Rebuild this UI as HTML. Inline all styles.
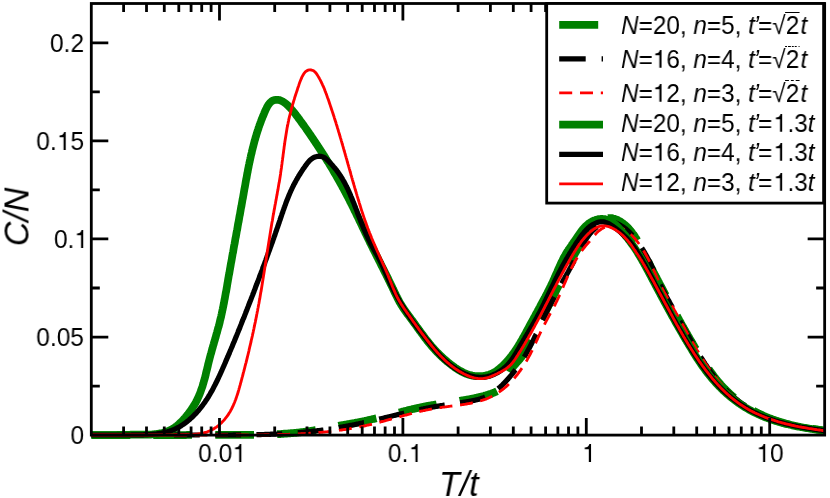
<!DOCTYPE html>
<html><head><meta charset="utf-8"><title>C/N vs T/t</title>
<style>
html,body{margin:0;padding:0;background:#fff;}
body{width:830px;height:498px;position:relative;overflow:hidden;font-family:"Liberation Sans",sans-serif;color:#000;}
.t{position:absolute;white-space:nowrap;line-height:1;will-change:transform;}
.tick{font-size:25.4px;}
.yl{text-align:right;width:80px;left:4.2px;transform:scaleX(0.965);transform-origin:100% 50%;}
.xl{text-align:center;width:100px;transform:scaleX(0.965);transform-origin:50% 50%;}
.ax{font-size:35.5px;font-style:italic;}
.lg{font-size:25.2px;left:621px;transform:scaleX(0.965);transform-origin:0 50%;}
.ap{margin-left:-1.3px;margin-right:-0.9px;}
.o3{margin-left:1.6px;}
.tf{margin-left:1.4px;}
.ov{position:relative;display:inline-block;}
.ov::before{content:"";position:absolute;left:-1px;right:-0.5px;top:-1.2px;border-top:1.6px solid #000;}
.ov.d::before{border-top:none;height:1.6px;background:repeating-linear-gradient(90deg,#000 0 2.2px,transparent 2.2px 3.4px);}
.ov.e::before{border-top:none;height:1.6px;background:repeating-linear-gradient(90deg,#000 0 3.6px,transparent 3.6px 5.6px);}
i{font-style:italic;}
.one{display:inline-block;width:0.556em;height:0.709em;vertical-align:baseline;fill:#000;}
</style></head><body>
<svg width="830" height="498" viewBox="0 0 830 498" style="position:absolute;left:0;top:0">
<defs><clipPath id="cp"><rect x="91.3" y="3.5" width="733.35" height="435.8"/></clipPath></defs>
<g clip-path="url(#cp)" fill="none" stroke-linejoin="round" stroke-linecap="butt">
<path d="M91.3,434.9 L92.1,434.9 L93.0,435.0 L93.9,435.0 L94.7,435.0 L95.6,435.0 L96.4,435.0 L97.3,435.0 L98.1,435.0 L99.0,435.0 L99.9,435.0 L100.7,435.0 L101.6,435.0 L102.4,435.0 L103.3,435.0 L104.2,435.0 L105.0,435.0 L105.9,435.0 L106.7,435.0 L107.6,435.0 L108.5,435.0 L109.3,435.0 L110.2,435.0 L111.0,435.0 L111.9,435.0 L112.7,435.0 L113.6,435.0 L114.5,435.0 L115.3,435.0 L116.2,435.0 L117.0,435.0 L117.9,435.0 L118.7,435.0 L119.6,435.0 L120.5,435.0 L121.3,435.0 L122.2,435.0 L123.0,435.0 L123.9,435.0 L124.7,435.0 L125.6,435.0 L126.5,435.0 L127.3,435.0 L128.2,435.0 L129.0,435.0 L129.9,435.0 L130.7,435.0 L131.6,435.0 L132.5,435.0 L133.3,435.0 L134.2,435.0 L135.0,435.0 L135.9,435.0 L136.7,435.0 L137.6,435.0 L138.5,435.0 L139.3,435.0 L140.2,435.0 L141.0,435.0 L141.9,435.0 L142.7,435.0 L143.6,435.0 L144.5,435.0 L145.3,435.0 L146.2,435.0 L147.0,435.0 L147.9,435.0 L148.7,435.0 L149.6,435.0 L150.5,435.0 L151.3,435.0 L152.2,435.0 L153.0,435.0 L153.9,435.0 L154.7,435.0 L155.6,435.0 L156.5,435.0 L157.3,435.0 L158.2,435.0 L159.0,435.0 L159.9,435.0 L160.7,435.0 L161.6,435.0 L162.4,435.0 L163.3,435.0 L164.2,435.0 L165.0,435.0 L165.9,435.0 L166.7,435.0 L167.6,435.0 L168.4,435.0 L169.3,435.0 L170.2,435.0 L171.0,435.0 L171.9,435.0 L172.7,435.0 L173.6,435.0 L174.4,435.0 L175.3,435.0 L176.2,435.0 L177.0,435.0 L177.9,435.0 L178.7,435.0 L179.6,435.0 L180.4,435.0 L181.3,435.0 L182.1,435.0 L183.0,435.0 L183.9,435.0 L184.7,435.0 L185.6,435.0 L186.4,435.0 L187.3,434.9 L188.1,434.9 L189.0,434.9 L189.9,434.9 L190.7,434.9 L191.6,434.9 L192.4,434.9 L193.3,434.9 L194.1,434.9 L195.0,434.9 L195.9,434.9 L196.7,434.9 L197.6,434.9 L198.4,434.9 L199.3,434.9 L200.1,434.9 L201.0,434.9 L201.9,434.9 L202.7,434.9 L203.6,434.9 L204.4,434.9 L205.3,434.9 L206.1,434.9 L207.0,434.9 L207.9,434.9 L208.7,434.9 L209.6,434.9 L210.4,434.9 L211.3,434.9 L212.1,434.9 L213.0,434.9 L213.9,434.9 L214.7,434.9 L215.6,434.9 L216.4,434.9 L217.3,434.9 L218.1,434.9 L219.0,434.9 L219.9,434.9 L220.7,434.9 L221.6,434.9 L222.4,434.9 L223.3,434.9 L224.1,434.9 L225.0,434.9 L225.9,434.9 L226.7,434.9 L227.6,434.9 L228.4,434.9 L229.3,434.9 L230.2,434.9 L231.0,434.9 L231.9,434.9 L232.7,434.9 L233.6,434.9 L234.4,434.9 L235.3,434.9 L236.2,434.8 L237.0,434.8 L237.9,434.8 L238.7,434.8 L239.6,434.8 L240.5,434.8 L241.3,434.8 L242.2,434.8 L243.0,434.8 L243.9,434.8 L244.8,434.8 L245.6,434.8 L246.5,434.8 L247.3,434.8 L248.2,434.8 L249.0,434.8 L249.9,434.8 L250.8,434.8 L251.6,434.8 L252.5,434.8 L253.3,434.8 L254.2,434.8 L255.1,434.8 L255.9,434.7 L256.8,434.7 L257.6,434.7 L258.5,434.7 L259.3,434.7 L260.2,434.7 L261.1,434.7 L261.9,434.6 L262.8,434.6 L263.6,434.6 L264.5,434.6 L265.4,434.6 L266.2,434.5 L267.1,434.5 L267.9,434.5 L268.8,434.5 L269.6,434.4 L270.5,434.4 L271.4,434.4 L272.2,434.4 L273.1,434.3 L273.9,434.3 L274.8,434.2 L275.6,434.2 L276.5,434.2 L277.3,434.1 L278.2,434.1 L279.1,434.0 L279.9,434.0 L280.8,434.0 L281.6,433.9 L282.5,433.9 L283.3,433.8 L284.2,433.7 L285.0,433.7 L285.9,433.6 L286.7,433.6 L287.6,433.5 L288.5,433.4 L289.3,433.4 L290.2,433.3 L291.0,433.2 L291.9,433.2 L292.7,433.1 L293.6,433.0 L294.4,432.9 L295.3,432.8 L296.1,432.8 L297.0,432.7 L297.8,432.6 L298.7,432.5 L299.5,432.4 L300.4,432.3 L301.2,432.2 L302.1,432.1 L302.9,432.0 L303.8,431.9 L304.6,431.8 L305.5,431.7 L306.3,431.6 L307.2,431.4 L308.0,431.3 L308.8,431.2 L309.7,431.1 L310.5,430.9 L311.4,430.8 L312.2,430.7 L313.1,430.5 L313.9,430.4 L314.8,430.3 L315.6,430.1 L316.5,430.0 L317.3,429.8 L318.1,429.7 L319.0,429.5 L319.8,429.4 L320.7,429.2 L321.5,429.1 L322.4,428.9 L323.2,428.8 L324.0,428.6 L324.9,428.4 L325.7,428.3 L326.6,428.1 L327.4,428.0 L328.3,427.8 L329.1,427.7 L329.9,427.5 L330.8,427.3 L331.6,427.2 L332.5,427.0 L333.3,426.9 L334.2,426.7 L335.0,426.5 L335.8,426.4 L336.7,426.2 L337.5,426.1 L338.4,425.9 L339.2,425.7 L340.0,425.6 L340.9,425.4 L341.7,425.3 L342.6,425.1 L343.4,425.0 L344.3,424.8 L345.1,424.7 L346.0,424.5 L346.8,424.4 L347.6,424.2 L348.5,424.1 L349.3,423.9 L350.2,423.8 L351.0,423.6 L351.9,423.5 L352.7,423.3 L353.5,423.2 L354.4,423.0 L355.2,422.8 L356.1,422.7 L356.9,422.5 L357.7,422.4 L358.6,422.2 L359.4,422.0 L360.3,421.9 L361.1,421.7 L361.9,421.5 L362.8,421.4 L363.6,421.2 L364.5,421.0 L365.3,420.8 L366.1,420.7 L367.0,420.5 L367.8,420.3 L368.6,420.1 L369.5,419.9 L370.3,419.7 L371.1,419.5 L372.0,419.3 L372.8,419.1 L373.6,418.9 L374.5,418.8 L375.3,418.6 L376.1,418.3 L377.0,418.1 L377.8,417.9 L378.6,417.7 L379.5,417.5 L380.3,417.3 L381.1,417.1 L382.0,416.9 L382.8,416.7 L383.6,416.5 L384.5,416.3 L385.3,416.1 L386.1,415.8 L386.9,415.6 L387.8,415.4 L388.6,415.2 L389.4,415.0 L390.3,414.8 L391.1,414.6 L391.9,414.3 L392.8,414.1 L393.6,413.9 L394.4,413.7 L395.2,413.5 L396.1,413.3 L396.9,413.1 L397.7,412.8 L398.6,412.6 L399.4,412.4 L400.2,412.2 L401.1,412.0 L401.9,411.8 L402.7,411.6 L403.5,411.4 L404.4,411.1 L405.2,410.9 L406.0,410.7 L406.9,410.5 L407.7,410.3 L408.5,410.1 L409.4,409.9 L410.2,409.7 L411.0,409.5 L411.9,409.3 L412.7,409.1 L413.5,408.9 L414.4,408.7 L415.2,408.5 L416.0,408.3 L416.9,408.2 L417.7,408.0 L418.5,407.8 L419.4,407.6 L420.2,407.4 L421.1,407.3 L421.9,407.1 L422.7,406.9 L423.6,406.7 L424.4,406.6 L425.2,406.4 L426.1,406.2 L426.9,406.1 L427.8,405.9 L428.6,405.8 L429.5,405.6 L430.3,405.5 L431.1,405.3 L432.0,405.2 L432.8,405.0 L433.7,404.9 L434.5,404.8 L435.4,404.6 L436.2,404.5 L437.1,404.3 L437.9,404.2 L438.7,404.1 L439.6,403.9 L440.4,403.8 L441.3,403.7 L442.1,403.6 L443.0,403.4 L443.8,403.3 L444.7,403.2 L445.5,403.0 L446.4,402.9 L447.2,402.8 L448.1,402.7 L448.9,402.5 L449.8,402.4 L450.6,402.3 L451.5,402.2 L452.3,402.0 L453.2,401.9 L454.0,401.8 L454.8,401.6 L455.7,401.5 L456.5,401.4 L457.4,401.2 L458.2,401.1 L459.1,401.0 L459.9,400.8 L460.8,400.7 L461.6,400.6 L462.5,400.4 L463.3,400.3 L464.2,400.1 L465.0,400.0 L465.8,399.8 L466.7,399.7 L467.5,399.5 L468.4,399.4 L469.2,399.2 L470.1,399.0 L470.9,398.9 L471.7,398.7 L472.6,398.5 L473.4,398.4 L474.3,398.2 L475.1,398.0 L475.9,397.8 L476.8,397.6 L477.6,397.4 L478.5,397.2 L479.3,397.0 L480.1,396.8 L481.0,396.6 L481.8,396.4 L482.6,396.2 L483.5,396.0 L484.3,395.8 L485.1,395.5 L486.0,395.3 L486.8,395.1 L487.6,394.8 L488.4,394.6 L489.3,394.3 L490.1,394.0 L490.9,393.8 L491.7,393.5 L492.5,393.2 L493.3,392.9 L494.1,392.6 L494.9,392.2 L495.7,391.9 L496.4,391.5 L497.2,391.1 L497.9,390.6 L498.6,390.2 L499.3,389.7 L499.9,389.1 L500.6,388.6 L501.2,388.0 L501.7,387.4 L502.3,386.8 L502.8,386.1 L503.4,385.4 L503.9,384.7 L504.3,384.0 L504.8,383.3 L505.2,382.5 L505.6,381.8 L506.0,381.0 L506.3,380.2 L506.7,379.4 L507.0,378.6 L507.4,377.8 L507.7,377.0 L508.0,376.2 L508.4,375.4 L508.7,374.6 L509.0,373.8 L509.4,373.0 L509.7,372.3 L510.1,371.5 L510.5,370.7 L510.9,370.0 L511.4,369.3 L511.8,368.5 L512.3,367.9 L512.8,367.2 L513.4,366.5 L513.9,365.8 L514.5,365.2 L515.0,364.5 L515.6,363.9 L516.2,363.3 L516.7,362.6 L517.3,362.0 L517.9,361.3 L518.5,360.7 L519.0,360.1 L519.6,359.4 L520.1,358.7 L520.7,358.1 L521.2,357.4 L521.7,356.7 L522.2,356.0 L522.6,355.3 L523.1,354.6 L523.5,353.8 L523.9,353.1 L524.3,352.3 L524.7,351.6 L525.1,350.8 L525.5,350.1 L525.9,349.3 L526.3,348.5 L526.7,347.8 L527.1,347.0 L527.5,346.3 L527.9,345.5 L528.3,344.7 L528.7,344.0 L529.1,343.2 L529.5,342.5 L529.9,341.7 L530.3,340.9 L530.7,340.2 L531.1,339.4 L531.5,338.7 L531.9,337.9 L532.2,337.1 L532.6,336.4 L533.0,335.6 L533.4,334.9 L533.8,334.1 L534.2,333.3 L534.6,332.6 L535.0,331.8 L535.4,331.1 L535.8,330.3 L536.2,329.5 L536.6,328.8 L537.0,328.0 L537.4,327.3 L537.8,326.5 L538.2,325.7 L538.6,325.0 L539.0,324.2 L539.4,323.5 L539.8,322.7 L540.2,321.9 L540.6,321.2 L541.0,320.4 L541.4,319.6 L541.8,318.9 L542.2,318.1 L542.6,317.4 L543.0,316.6 L543.4,315.8 L543.8,315.1 L544.2,314.3 L544.6,313.6 L545.0,312.8 L545.4,312.0 L545.8,311.3 L546.1,310.5 L546.5,309.7 L546.9,309.0 L547.3,308.2 L547.7,307.5 L548.1,306.7 L548.5,305.9 L548.9,305.2 L549.3,304.4 L549.7,303.6 L550.1,302.9 L550.4,302.1 L550.8,301.3 L551.2,300.6 L551.6,299.8 L552.0,299.0 L552.4,298.3 L552.8,297.5 L553.1,296.8 L553.5,296.0 L553.9,295.2 L554.3,294.4 L554.7,293.7 L555.1,292.9 L555.4,292.1 L555.8,291.4 L556.2,290.6 L556.6,289.8 L556.9,289.1 L557.3,288.3 L557.7,287.5 L558.1,286.8 L558.5,286.0 L558.8,285.2 L559.2,284.5 L559.6,283.7 L560.0,282.9 L560.3,282.1 L560.7,281.4 L561.1,280.6 L561.5,279.8 L561.8,279.1 L562.2,278.3 L562.6,277.5 L563.0,276.8 L563.4,276.0 L563.7,275.2 L564.1,274.5 L564.5,273.7 L564.9,272.9 L565.3,272.2 L565.6,271.4 L566.0,270.6 L566.4,269.9 L566.8,269.1 L567.2,268.3 L567.6,267.6 L568.0,266.8 L568.3,266.1 L568.7,265.3 L569.1,264.5 L569.5,263.8 L569.9,263.0 L570.3,262.3 L570.7,261.5 L571.1,260.8 L571.5,260.0 L571.9,259.2 L572.3,258.5 L572.7,257.7 L573.2,257.0 L573.6,256.2 L574.0,255.5 L574.4,254.7 L574.8,254.0 L575.2,253.3 L575.7,252.5 L576.1,251.8 L576.5,251.0 L576.9,250.3 L577.4,249.5 L577.8,248.8 L578.3,248.1 L578.7,247.3 L579.1,246.6 L579.6,245.9 L580.0,245.1 L580.5,244.4 L580.9,243.7 L581.4,243.0 L581.9,242.2 L582.3,241.5 L582.8,240.8 L583.3,240.1 L583.8,239.4 L584.2,238.6 L584.7,237.9 L585.2,237.2 L585.7,236.5 L586.2,235.8 L586.7,235.1 L587.2,234.4 L587.7,233.7 L588.2,233.0 L588.7,232.3 L589.2,231.6 L589.8,230.9 L590.3,230.2 L590.8,229.5 L591.4,228.8 L591.9,228.2 L592.5,227.5 L593.0,226.9 L593.6,226.2 L594.2,225.6 L594.8,225.0 L595.4,224.4 L596.0,223.8 L596.6,223.3 L597.3,222.7 L598.0,222.2 L598.7,221.7 L599.3,221.2 L600.1,220.8 L600.8,220.4 L601.6,220.0 L602.3,219.6 L603.1,219.3 L603.9,219.0 L604.8,218.7 L605.6,218.5 L606.4,218.3 L607.3,218.2 L608.2,218.1 L609.0,218.0 L609.9,218.0 L610.7,218.1 L611.6,218.1 L612.4,218.3 L613.2,218.5 L614.1,218.7 L614.9,219.0 L615.7,219.2 L616.4,219.5 L617.2,219.9 L618.0,220.2 L618.7,220.6 L619.5,221.0 L620.2,221.4 L620.9,221.9 L621.6,222.3 L622.3,222.8 L623.0,223.3 L623.6,223.8 L624.3,224.3 L624.9,224.9 L625.6,225.4 L626.2,226.0 L626.8,226.6 L627.4,227.2 L628.1,227.8 L628.6,228.4 L629.2,229.1 L629.8,229.7 L630.4,230.4 L630.9,231.1 L631.5,231.8 L632.0,232.5 L632.5,233.2 L633.1,233.9 L633.6,234.6 L634.1,235.3 L634.6,236.0 L635.1,236.8 L635.5,237.5 L636.0,238.3 L636.5,239.0 L637.0,239.8 L637.4,240.5 L637.9,241.3 L638.3,242.0 L638.7,242.8 L639.2,243.5 L639.6,244.3 L640.0,245.0 L640.4,245.8 L640.8,246.5 L641.2,247.3 L641.6,248.1 L642.0,248.8 L642.4,249.6 L642.8,250.3 L643.2,251.1 L643.5,251.9 L643.9,252.6 L644.3,253.4 L644.7,254.1 L645.1,254.9 L645.4,255.7 L645.8,256.4 L646.2,257.2 L646.5,257.9 L646.9,258.7 L647.3,259.5 L647.6,260.2 L648.0,261.0 L648.4,261.8 L648.8,262.5 L649.1,263.3 L649.5,264.0 L649.9,264.8 L650.3,265.6 L650.7,266.3 L651.0,267.1 L651.4,267.8 L651.8,268.6 L652.2,269.4 L652.6,270.1 L653.0,270.9 L653.4,271.7 L653.7,272.4 L654.1,273.2 L654.5,273.9 L654.9,274.7 L655.3,275.5 L655.7,276.2 L656.1,277.0 L656.5,277.7 L656.9,278.5 L657.3,279.3 L657.7,280.0 L658.1,280.8 L658.5,281.5 L658.9,282.3 L659.3,283.1 L659.7,283.8 L660.1,284.6 L660.5,285.3 L660.9,286.1 L661.3,286.9 L661.7,287.6 L662.1,288.4 L662.5,289.1 L662.9,289.9 L663.3,290.7 L663.7,291.4 L664.1,292.2 L664.5,292.9 L664.9,293.7 L665.3,294.5 L665.7,295.2 L666.1,296.0 L666.5,296.7 L667.0,297.5 L667.4,298.2 L667.8,299.0 L668.2,299.7 L668.6,300.5 L669.0,301.3 L669.4,302.0 L669.8,302.8 L670.2,303.5 L670.6,304.3 L671.1,305.0 L671.5,305.8 L671.9,306.5 L672.3,307.3 L672.7,308.1 L673.1,308.8 L673.5,309.6 L673.9,310.3 L674.4,311.1 L674.8,311.8 L675.2,312.6 L675.6,313.3 L676.0,314.1 L676.4,314.8 L676.8,315.6 L677.2,316.3 L677.7,317.1 L678.1,317.8 L678.5,318.6 L678.9,319.3 L679.3,320.1 L679.7,320.8 L680.1,321.6 L680.6,322.3 L681.0,323.1 L681.4,323.8 L681.8,324.6 L682.2,325.3 L682.6,326.0 L683.1,326.8 L683.5,327.5 L683.9,328.3 L684.3,329.0 L684.7,329.8 L685.2,330.5 L685.6,331.3 L686.0,332.0 L686.4,332.7 L686.9,333.5 L687.3,334.2 L687.7,335.0 L688.1,335.7 L688.6,336.5 L689.0,337.2 L689.4,337.9 L689.8,338.7 L690.3,339.4 L690.7,340.2 L691.1,340.9 L691.6,341.6 L692.0,342.4 L692.4,343.1 L692.9,343.9 L693.3,344.6 L693.7,345.3 L694.2,346.1 L694.6,346.8 L695.0,347.5 L695.5,348.3 L695.9,349.0 L696.4,349.7 L696.8,350.5 L697.3,351.2 L697.7,351.9 L698.1,352.7 L698.6,353.4 L699.0,354.1 L699.5,354.9 L699.9,355.6 L700.4,356.3 L700.9,357.1 L701.3,357.8 L701.8,358.5 L702.2,359.2 L702.7,360.0 L703.2,360.7 L703.6,361.4 L704.1,362.1 L704.6,362.9 L705.0,363.6 L705.5,364.3 L706.0,365.0 L706.5,365.7 L706.9,366.4 L707.4,367.1 L707.9,367.9 L708.4,368.6 L708.9,369.3 L709.4,370.0 L709.9,370.7 L710.4,371.4 L710.9,372.1 L711.4,372.8 L711.9,373.5 L712.4,374.1 L712.9,374.8 L713.4,375.5 L713.9,376.2 L714.5,376.9 L715.0,377.5 L715.5,378.2 L716.0,378.9 L716.6,379.6 L717.1,380.2 L717.7,380.9 L718.2,381.5 L718.8,382.2 L719.3,382.8 L719.9,383.5 L720.4,384.1 L721.0,384.8 L721.6,385.4 L722.1,386.0 L722.7,386.7 L723.3,387.3 L723.9,387.9 L724.5,388.5 L725.1,389.1 L725.7,389.7 L726.3,390.3 L726.9,390.9 L727.5,391.5 L728.1,392.1 L728.7,392.7 L729.3,393.3 L730.0,393.9 L730.6,394.4 L731.2,395.0 L731.9,395.6 L732.5,396.1 L733.2,396.7 L733.8,397.2 L734.5,397.8 L735.2,398.3 L735.8,398.9 L736.5,399.4 L737.2,399.9 L737.9,400.4 L738.5,401.0 L739.2,401.5 L739.9,402.0 L740.6,402.5 L741.3,403.0 L742.0,403.5 L742.7,404.0 L743.4,404.5 L744.1,404.9 L744.8,405.4 L745.6,405.9 L746.3,406.3 L747.0,406.8 L747.7,407.3 L748.5,407.7 L749.2,408.2 L749.9,408.6 L750.7,409.1 L751.4,409.5 L752.2,409.9 L752.9,410.3 L753.6,410.8 L754.4,411.2 L755.2,411.6 L755.9,412.0 L756.7,412.4 L757.4,412.8 L758.2,413.2 L759.0,413.6 L759.7,413.9 L760.5,414.3 L761.3,414.7 L762.1,415.0 L762.9,415.4 L763.6,415.8 L764.4,416.1 L765.2,416.5 L766.0,416.8 L766.8,417.1 L767.6,417.5 L768.4,417.8 L769.2,418.1 L770.0,418.4 L770.8,418.7 L771.6,419.0 L772.4,419.3 L773.2,419.6 L774.0,419.9 L774.8,420.2 L775.6,420.5 L776.4,420.8 L777.2,421.0 L778.1,421.3 L778.9,421.6 L779.7,421.8 L780.5,422.1 L781.3,422.3 L782.1,422.5 L783.0,422.8 L783.8,423.0 L784.6,423.2 L785.4,423.5 L786.3,423.7 L787.1,423.9 L787.9,424.1 L788.8,424.3 L789.6,424.5 L790.4,424.7 L791.2,424.9 L792.1,425.1 L792.9,425.2 L793.7,425.4 L794.6,425.6 L795.4,425.8 L796.3,425.9 L797.1,426.1 L797.9,426.3 L798.8,426.4 L799.6,426.6 L800.5,426.7 L801.3,426.9 L802.1,427.1 L803.0,427.2 L803.8,427.4 L804.7,427.5 L805.5,427.6 L806.4,427.8 L807.2,427.9 L808.0,428.1 L808.9,428.2 L809.7,428.4 L810.6,428.5 L811.4,428.6 L812.3,428.8 L813.1,428.9 L814.0,429.0 L814.8,429.2 L815.7,429.3 L816.5,429.4 L817.4,429.6 L818.2,429.7 L819.1,429.8 L819.9,430.0 L820.8,430.1 L821.6,430.2 L822.5,430.4 L823.3,430.5 L824.2,430.7 L825.0,430.8" stroke="#008000" stroke-width="7.75" stroke-dasharray="38.7 23.3" stroke-dashoffset="0"/>
<path d="M91.3,435.0 L92.2,435.0 L93.0,435.0 L93.9,435.0 L94.7,435.0 L95.6,435.0 L96.4,435.0 L97.3,435.0 L98.1,435.0 L99.0,435.0 L99.8,435.0 L100.7,435.0 L101.5,435.0 L102.4,435.0 L103.2,435.0 L104.1,435.0 L104.9,435.0 L105.8,435.0 L106.6,435.0 L107.5,435.0 L108.3,435.0 L109.2,435.0 L110.0,435.0 L110.9,435.0 L111.7,435.0 L112.6,435.0 L113.4,435.0 L114.3,435.0 L115.1,435.0 L116.0,435.0 L116.8,435.0 L117.7,435.0 L118.6,435.0 L119.4,435.0 L120.3,435.0 L121.1,435.0 L122.0,435.0 L122.8,435.0 L123.7,435.0 L124.5,435.0 L125.4,435.0 L126.2,435.0 L127.1,435.0 L127.9,435.0 L128.8,435.0 L129.6,435.0 L130.5,435.0 L131.3,435.0 L132.2,435.0 L133.0,435.0 L133.9,435.0 L134.7,435.0 L135.6,435.0 L136.4,435.0 L137.3,435.0 L138.2,435.0 L139.0,435.0 L139.9,435.0 L140.7,435.0 L141.6,435.0 L142.4,435.0 L143.3,435.0 L144.1,435.0 L145.0,435.0 L145.8,435.0 L146.7,435.0 L147.5,435.0 L148.4,435.0 L149.2,435.0 L150.1,435.0 L150.9,435.0 L151.8,435.0 L152.6,435.0 L153.5,435.0 L154.3,435.0 L155.2,435.0 L156.0,435.0 L156.9,435.0 L157.7,435.0 L158.6,435.0 L159.5,435.0 L160.3,435.0 L161.2,435.0 L162.0,435.0 L162.9,435.0 L163.7,435.0 L164.6,435.0 L165.4,435.0 L166.3,435.0 L167.1,435.0 L168.0,435.0 L168.8,435.0 L169.7,435.0 L170.5,435.0 L171.4,435.0 L172.2,435.0 L173.1,435.0 L173.9,435.0 L174.8,435.0 L175.6,435.0 L176.5,435.0 L177.3,435.0 L178.2,435.0 L179.0,435.0 L179.9,435.0 L180.7,435.0 L181.6,435.0 L182.4,435.0 L183.3,435.0 L184.2,435.0 L185.0,435.0 L185.9,435.0 L186.7,435.0 L187.6,435.0 L188.4,435.0 L189.3,435.0 L190.1,435.0 L191.0,435.0 L191.8,435.0 L192.7,435.0 L193.5,435.0 L194.4,435.0 L195.2,435.0 L196.1,435.0 L196.9,435.0 L197.8,435.0 L198.6,435.0 L199.5,435.0 L200.3,435.0 L201.2,435.0 L202.0,435.0 L202.9,435.0 L203.7,435.0 L204.6,435.0 L205.4,435.0 L206.3,435.0 L207.1,435.0 L208.0,435.0 L208.8,435.0 L209.7,435.0 L210.5,435.0 L211.4,435.0 L212.3,435.0 L213.1,435.0 L214.0,435.0 L214.8,435.0 L215.7,435.0 L216.5,435.0 L217.4,435.0 L218.2,435.0 L219.1,435.0 L219.9,435.0 L220.8,435.0 L221.6,435.0 L222.5,435.0 L223.3,435.0 L224.2,435.0 L225.0,435.0 L225.9,435.0 L226.7,435.0 L227.6,435.0 L228.4,435.0 L229.3,435.0 L230.1,435.0 L231.0,435.0 L231.8,435.0 L232.7,435.0 L233.5,434.9 L234.4,434.9 L235.2,434.9 L236.1,434.9 L237.0,434.9 L237.8,434.9 L238.7,434.9 L239.5,434.9 L240.4,434.9 L241.2,434.9 L242.1,434.9 L242.9,434.9 L243.8,434.9 L244.6,434.8 L245.5,434.8 L246.3,434.8 L247.2,434.8 L248.0,434.8 L248.9,434.8 L249.7,434.8 L250.6,434.8 L251.4,434.7 L252.3,434.7 L253.1,434.7 L254.0,434.7 L254.8,434.7 L255.7,434.7 L256.6,434.6 L257.4,434.6 L258.3,434.6 L259.1,434.6 L260.0,434.6 L260.8,434.6 L261.7,434.5 L262.5,434.5 L263.4,434.5 L264.2,434.5 L265.1,434.4 L265.9,434.4 L266.8,434.4 L267.6,434.4 L268.5,434.3 L269.3,434.3 L270.2,434.3 L271.0,434.2 L271.9,434.2 L272.7,434.2 L273.6,434.2 L274.4,434.1 L275.3,434.1 L276.1,434.0 L277.0,434.0 L277.9,434.0 L278.7,433.9 L279.6,433.9 L280.4,433.9 L281.3,433.8 L282.1,433.8 L283.0,433.7 L283.8,433.7 L284.7,433.6 L285.5,433.6 L286.4,433.5 L287.2,433.5 L288.1,433.4 L288.9,433.4 L289.8,433.3 L290.6,433.3 L291.5,433.2 L292.3,433.2 L293.2,433.1 L294.0,433.0 L294.9,433.0 L295.7,432.9 L296.6,432.9 L297.4,432.8 L298.3,432.7 L299.1,432.7 L299.9,432.6 L300.8,432.5 L301.6,432.4 L302.5,432.4 L303.3,432.3 L304.2,432.2 L305.0,432.1 L305.9,432.0 L306.7,432.0 L307.6,431.9 L308.4,431.8 L309.3,431.7 L310.1,431.6 L311.0,431.5 L311.8,431.4 L312.6,431.3 L313.5,431.2 L314.3,431.1 L315.2,431.1 L316.0,430.9 L316.9,430.8 L317.7,430.7 L318.6,430.6 L319.4,430.5 L320.3,430.4 L321.1,430.3 L321.9,430.2 L322.8,430.1 L323.6,430.0 L324.5,429.8 L325.3,429.7 L326.2,429.6 L327.0,429.5 L327.8,429.4 L328.7,429.2 L329.5,429.1 L330.4,429.0 L331.2,428.8 L332.0,428.7 L332.9,428.6 L333.7,428.4 L334.6,428.3 L335.4,428.2 L336.2,428.0 L337.1,427.9 L337.9,427.7 L338.8,427.6 L339.6,427.4 L340.4,427.3 L341.3,427.1 L342.1,427.0 L343.0,426.8 L343.8,426.7 L344.6,426.5 L345.5,426.4 L346.3,426.2 L347.1,426.1 L348.0,425.9 L348.8,425.7 L349.6,425.6 L350.5,425.4 L351.3,425.3 L352.2,425.1 L353.0,424.9 L353.8,424.8 L354.7,424.6 L355.5,424.4 L356.3,424.2 L357.2,424.1 L358.0,423.9 L358.8,423.7 L359.7,423.5 L360.5,423.4 L361.3,423.2 L362.2,423.0 L363.0,422.8 L363.8,422.6 L364.7,422.5 L365.5,422.3 L366.3,422.1 L367.2,421.9 L368.0,421.7 L368.8,421.5 L369.7,421.3 L370.5,421.2 L371.3,421.0 L372.2,420.8 L373.0,420.6 L373.8,420.4 L374.6,420.2 L375.5,420.0 L376.3,419.8 L377.1,419.6 L378.0,419.4 L378.8,419.2 L379.6,419.0 L380.4,418.8 L381.3,418.6 L382.1,418.4 L382.9,418.2 L383.8,418.0 L384.6,417.8 L385.4,417.6 L386.2,417.4 L387.1,417.2 L387.9,417.0 L388.7,416.8 L389.6,416.6 L390.4,416.4 L391.2,416.2 L392.0,416.0 L392.9,415.8 L393.7,415.6 L394.5,415.4 L395.4,415.2 L396.2,415.0 L397.0,414.8 L397.8,414.6 L398.7,414.4 L399.5,414.2 L400.3,414.0 L401.1,413.8 L402.0,413.6 L402.8,413.4 L403.6,413.2 L404.5,413.0 L405.3,412.8 L406.1,412.7 L406.9,412.5 L407.8,412.3 L408.6,412.1 L409.4,411.9 L410.3,411.7 L411.1,411.5 L411.9,411.3 L412.8,411.1 L413.6,410.9 L414.4,410.8 L415.2,410.6 L416.1,410.4 L416.9,410.2 L417.7,410.0 L418.6,409.8 L419.4,409.7 L420.2,409.5 L421.1,409.3 L421.9,409.1 L422.7,409.0 L423.6,408.8 L424.4,408.6 L425.2,408.5 L426.1,408.3 L426.9,408.1 L427.7,408.0 L428.6,407.8 L429.4,407.7 L430.2,407.5 L431.1,407.3 L431.9,407.2 L432.7,407.0 L433.6,406.9 L434.4,406.7 L435.3,406.6 L436.1,406.4 L436.9,406.3 L437.8,406.2 L438.6,406.0 L439.4,405.9 L440.3,405.8 L441.1,405.6 L442.0,405.5 L442.8,405.4 L443.6,405.2 L444.5,405.1 L445.3,405.0 L446.2,404.9 L447.0,404.7 L447.9,404.6 L448.7,404.5 L449.5,404.4 L450.4,404.3 L451.2,404.1 L452.1,404.0 L452.9,403.9 L453.8,403.8 L454.6,403.7 L455.5,403.5 L456.3,403.4 L457.1,403.3 L458.0,403.2 L458.8,403.0 L459.7,402.9 L460.5,402.8 L461.4,402.6 L462.2,402.5 L463.1,402.4 L463.9,402.2 L464.8,402.1 L465.6,402.0 L466.4,401.8 L467.3,401.7 L468.1,401.5 L469.0,401.4 L469.8,401.2 L470.7,401.1 L471.5,400.9 L472.4,400.8 L473.2,400.6 L474.0,400.4 L474.9,400.2 L475.7,400.0 L476.5,399.8 L477.4,399.6 L478.2,399.4 L479.0,399.2 L479.8,398.9 L480.6,398.7 L481.4,398.4 L482.2,398.1 L483.0,397.9 L483.8,397.6 L484.6,397.2 L485.3,396.9 L486.1,396.6 L486.9,396.2 L487.6,395.9 L488.3,395.5 L489.1,395.1 L489.8,394.7 L490.5,394.2 L491.3,393.8 L492.0,393.3 L492.7,392.9 L493.4,392.4 L494.0,391.9 L494.7,391.4 L495.4,390.9 L496.1,390.4 L496.7,389.9 L497.4,389.4 L498.1,388.8 L498.7,388.3 L499.3,387.7 L500.0,387.1 L500.6,386.5 L501.2,386.0 L501.9,385.4 L502.5,384.8 L503.1,384.2 L503.7,383.6 L504.3,382.9 L504.9,382.3 L505.5,381.7 L506.1,381.1 L506.6,380.4 L507.2,379.8 L507.8,379.2 L508.4,378.5 L508.9,377.9 L509.5,377.2 L510.0,376.6 L510.6,375.9 L511.1,375.3 L511.7,374.6 L512.2,373.9 L512.8,373.3 L513.3,372.6 L513.8,371.9 L514.4,371.3 L514.9,370.6 L515.4,369.9 L515.9,369.3 L516.4,368.6 L516.9,367.9 L517.4,367.2 L517.9,366.5 L518.4,365.8 L518.9,365.1 L519.4,364.5 L519.8,363.8 L520.3,363.1 L520.8,362.4 L521.3,361.7 L521.7,360.9 L522.2,360.2 L522.6,359.5 L523.1,358.8 L523.5,358.1 L524.0,357.4 L524.4,356.7 L524.8,355.9 L525.3,355.2 L525.7,354.5 L526.1,353.7 L526.5,353.0 L527.0,352.3 L527.4,351.5 L527.8,350.8 L528.2,350.0 L528.6,349.3 L529.0,348.6 L529.4,347.8 L529.8,347.1 L530.2,346.3 L530.6,345.5 L531.0,344.8 L531.4,344.0 L531.7,343.3 L532.1,342.5 L532.5,341.7 L532.9,341.0 L533.3,340.2 L533.6,339.5 L534.0,338.7 L534.4,337.9 L534.7,337.1 L535.1,336.4 L535.5,335.6 L535.8,334.8 L536.2,334.1 L536.6,333.3 L536.9,332.5 L537.3,331.7 L537.7,331.0 L538.0,330.2 L538.4,329.4 L538.7,328.6 L539.1,327.9 L539.5,327.1 L539.8,326.3 L540.2,325.5 L540.5,324.8 L540.9,324.0 L541.3,323.2 L541.6,322.4 L542.0,321.7 L542.3,320.9 L542.7,320.1 L543.1,319.3 L543.4,318.6 L543.8,317.8 L544.2,317.0 L544.5,316.2 L544.9,315.5 L545.3,314.7 L545.6,313.9 L546.0,313.2 L546.4,312.4 L546.7,311.6 L547.1,310.9 L547.5,310.1 L547.9,309.3 L548.3,308.6 L548.6,307.8 L549.0,307.0 L549.4,306.3 L549.8,305.5 L550.2,304.8 L550.6,304.0 L551.0,303.3 L551.4,302.5 L551.7,301.8 L552.1,301.0 L552.5,300.2 L552.9,299.5 L553.3,298.7 L553.7,298.0 L554.1,297.2 L554.5,296.5 L554.9,295.7 L555.3,295.0 L555.7,294.3 L556.1,293.5 L556.6,292.8 L557.0,292.0 L557.4,291.3 L557.8,290.5 L558.2,289.8 L558.6,289.0 L559.0,288.3 L559.4,287.5 L559.8,286.8 L560.2,286.1 L560.6,285.3 L561.1,284.6 L561.5,283.8 L561.9,283.1 L562.3,282.3 L562.7,281.6 L563.1,280.9 L563.5,280.1 L563.9,279.4 L564.4,278.6 L564.8,277.9 L565.2,277.1 L565.6,276.4 L566.0,275.7 L566.4,274.9 L566.8,274.2 L567.2,273.4 L567.7,272.7 L568.1,271.9 L568.5,271.2 L568.9,270.4 L569.3,269.7 L569.7,268.9 L570.1,268.2 L570.5,267.5 L570.9,266.7 L571.4,266.0 L571.8,265.2 L572.2,264.5 L572.6,263.7 L573.0,263.0 L573.4,262.2 L573.8,261.5 L574.2,260.7 L574.6,259.9 L575.0,259.2 L575.4,258.4 L575.8,257.7 L576.2,256.9 L576.6,256.2 L577.0,255.4 L577.4,254.6 L577.8,253.9 L578.2,253.1 L578.6,252.4 L579.0,251.6 L579.4,250.8 L579.8,250.1 L580.2,249.3 L580.6,248.6 L581.0,247.8 L581.4,247.1 L581.8,246.3 L582.2,245.5 L582.6,244.8 L583.0,244.1 L583.5,243.3 L583.9,242.6 L584.3,241.9 L584.8,241.1 L585.2,240.4 L585.7,239.7 L586.1,239.0 L586.6,238.3 L587.1,237.6 L587.6,236.9 L588.1,236.2 L588.6,235.5 L589.1,234.8 L589.6,234.2 L590.1,233.5 L590.7,232.9 L591.2,232.2 L591.8,231.6 L592.4,231.0 L593.0,230.4 L593.6,229.8 L594.2,229.2 L594.8,228.6 L595.5,228.1 L596.2,227.5 L596.8,227.0 L597.5,226.4 L598.2,225.9 L599.0,225.4 L599.7,225.0 L600.4,224.5 L601.2,224.1 L601.9,223.7 L602.7,223.4 L603.5,223.0 L604.3,222.7 L605.0,222.5 L605.8,222.3 L606.6,222.1 L607.4,221.9 L608.3,221.8 L609.1,221.8 L609.9,221.8 L610.7,221.8 L611.5,221.9 L612.4,222.1 L613.2,222.2 L614.0,222.4 L614.8,222.7 L615.6,223.0 L616.4,223.3 L617.2,223.6 L618.0,224.0 L618.8,224.4 L619.6,224.8 L620.3,225.2 L621.1,225.7 L621.8,226.1 L622.6,226.6 L623.3,227.1 L624.0,227.6 L624.7,228.1 L625.4,228.7 L626.1,229.2 L626.7,229.8 L627.4,230.3 L628.0,230.9 L628.7,231.5 L629.3,232.1 L629.9,232.7 L630.5,233.3 L631.1,233.9 L631.7,234.5 L632.2,235.2 L632.8,235.8 L633.4,236.4 L633.9,237.1 L634.4,237.7 L635.0,238.4 L635.5,239.1 L636.0,239.7 L636.5,240.4 L637.0,241.1 L637.5,241.7 L638.0,242.4 L638.5,243.1 L639.0,243.8 L639.5,244.5 L640.0,245.2 L640.4,245.9 L640.9,246.6 L641.4,247.3 L641.8,248.0 L642.3,248.7 L642.7,249.4 L643.2,250.2 L643.6,250.9 L644.0,251.6 L644.5,252.3 L644.9,253.1 L645.3,253.8 L645.7,254.5 L646.2,255.3 L646.6,256.0 L647.0,256.7 L647.4,257.5 L647.8,258.2 L648.2,259.0 L648.6,259.7 L649.0,260.5 L649.4,261.2 L649.8,262.0 L650.2,262.8 L650.5,263.5 L650.9,264.3 L651.3,265.1 L651.6,265.8 L652.0,266.6 L652.3,267.4 L652.7,268.1 L653.0,268.9 L653.4,269.7 L653.7,270.5 L654.1,271.2 L654.4,272.0 L654.8,272.8 L655.1,273.6 L655.5,274.3 L655.8,275.1 L656.1,275.9 L656.5,276.7 L656.8,277.4 L657.2,278.2 L657.6,279.0 L657.9,279.8 L658.3,280.5 L658.6,281.3 L659.0,282.1 L659.4,282.8 L659.7,283.6 L660.1,284.4 L660.5,285.1 L660.9,285.9 L661.3,286.6 L661.7,287.4 L662.0,288.2 L662.4,288.9 L662.8,289.7 L663.2,290.4 L663.6,291.2 L664.0,291.9 L664.4,292.7 L664.8,293.5 L665.2,294.2 L665.6,295.0 L666.0,295.7 L666.4,296.5 L666.8,297.2 L667.2,298.0 L667.6,298.7 L668.0,299.5 L668.4,300.2 L668.9,301.0 L669.3,301.7 L669.7,302.5 L670.1,303.2 L670.5,304.0 L670.9,304.7 L671.3,305.4 L671.7,306.2 L672.1,306.9 L672.5,307.7 L672.9,308.4 L673.3,309.2 L673.8,309.9 L674.2,310.7 L674.6,311.4 L675.0,312.2 L675.4,312.9 L675.8,313.6 L676.2,314.4 L676.6,315.1 L677.0,315.9 L677.4,316.6 L677.9,317.4 L678.3,318.1 L678.7,318.9 L679.1,319.6 L679.5,320.3 L679.9,321.1 L680.3,321.8 L680.7,322.6 L681.2,323.3 L681.6,324.1 L682.0,324.8 L682.4,325.5 L682.8,326.3 L683.2,327.0 L683.7,327.8 L684.1,328.5 L684.5,329.2 L684.9,330.0 L685.3,330.7 L685.7,331.5 L686.2,332.2 L686.6,332.9 L687.0,333.7 L687.4,334.4 L687.9,335.2 L688.3,335.9 L688.7,336.6 L689.1,337.4 L689.5,338.1 L690.0,338.8 L690.4,339.6 L690.8,340.3 L691.3,341.1 L691.7,341.8 L692.1,342.5 L692.5,343.3 L693.0,344.0 L693.4,344.7 L693.8,345.5 L694.3,346.2 L694.7,346.9 L695.1,347.7 L695.6,348.4 L696.0,349.1 L696.4,349.9 L696.9,350.6 L697.3,351.3 L697.8,352.1 L698.2,352.8 L698.7,353.5 L699.1,354.3 L699.5,355.0 L700.0,355.7 L700.4,356.5 L700.9,357.2 L701.3,357.9 L701.8,358.6 L702.3,359.4 L702.7,360.1 L703.2,360.8 L703.6,361.5 L704.1,362.2 L704.6,363.0 L705.0,363.7 L705.5,364.4 L706.0,365.1 L706.5,365.8 L706.9,366.5 L707.4,367.2 L707.9,367.9 L708.4,368.6 L708.9,369.3 L709.4,370.0 L709.8,370.7 L710.3,371.4 L710.8,372.1 L711.3,372.8 L711.8,373.5 L712.4,374.1 L712.9,374.8 L713.4,375.5 L713.9,376.2 L714.4,376.8 L714.9,377.5 L715.5,378.2 L716.0,378.8 L716.5,379.5 L717.1,380.2 L717.6,380.8 L718.1,381.5 L718.7,382.1 L719.2,382.8 L719.8,383.4 L720.3,384.0 L720.9,384.7 L721.5,385.3 L722.0,385.9 L722.6,386.5 L723.2,387.2 L723.8,387.8 L724.4,388.4 L725.0,389.0 L725.5,389.6 L726.1,390.2 L726.7,390.8 L727.4,391.4 L728.0,392.0 L728.6,392.5 L729.2,393.1 L729.8,393.7 L730.5,394.3 L731.1,394.8 L731.7,395.4 L732.4,395.9 L733.0,396.5 L733.7,397.0 L734.3,397.6 L735.0,398.1 L735.6,398.7 L736.3,399.2 L737.0,399.7 L737.7,400.2 L738.3,400.8 L739.0,401.3 L739.7,401.8 L740.4,402.3 L741.1,402.8 L741.8,403.3 L742.5,403.8 L743.2,404.3 L743.9,404.7 L744.6,405.2 L745.3,405.7 L746.0,406.1 L746.7,406.6 L747.4,407.1 L748.2,407.5 L748.9,408.0 L749.6,408.4 L750.4,408.9 L751.1,409.3 L751.8,409.7 L752.6,410.1 L753.3,410.6 L754.1,411.0 L754.8,411.4 L755.6,411.8 L756.3,412.2 L757.1,412.6 L757.8,413.0 L758.6,413.4 L759.4,413.8 L760.1,414.1 L760.9,414.5 L761.7,414.9 L762.4,415.2 L763.2,415.6 L764.0,415.9 L764.8,416.3 L765.6,416.6 L766.3,417.0 L767.1,417.3 L767.9,417.6 L768.7,417.9 L769.5,418.3 L770.3,418.6 L771.1,418.9 L771.9,419.2 L772.7,419.5 L773.5,419.8 L774.3,420.1 L775.1,420.3 L775.9,420.6 L776.7,420.9 L777.5,421.2 L778.3,421.4 L779.1,421.7 L780.0,421.9 L780.8,422.2 L781.6,422.4 L782.4,422.6 L783.2,422.9 L784.0,423.1 L784.9,423.3 L785.7,423.5 L786.5,423.7 L787.3,423.9 L788.1,424.1 L789.0,424.3 L789.8,424.5 L790.6,424.7 L791.5,424.9 L792.3,425.1 L793.1,425.3 L793.9,425.5 L794.8,425.6 L795.6,425.8 L796.4,426.0 L797.3,426.1 L798.1,426.3 L798.9,426.5 L799.8,426.6 L800.6,426.8 L801.4,426.9 L802.3,427.1 L803.1,427.2 L804.0,427.4 L804.8,427.5 L805.6,427.7 L806.5,427.8 L807.3,427.9 L808.2,428.1 L809.0,428.2 L809.8,428.4 L810.7,428.5 L811.5,428.6 L812.4,428.8 L813.2,428.9 L814.1,429.0 L814.9,429.2 L815.7,429.3 L816.6,429.4 L817.4,429.6 L818.3,429.7 L819.1,429.8 L820.0,430.0 L820.8,430.1 L821.6,430.2 L822.5,430.4 L823.3,430.5 L824.2,430.7 L825.0,430.8" stroke="#000000" stroke-width="5.2" stroke-dasharray="25.83 15.5" stroke-dashoffset="0"/>
<path d="M91.2,435.0 L92.1,435.0 L92.9,435.0 L93.8,435.0 L94.6,435.0 L95.5,435.0 L96.4,435.0 L97.2,435.0 L98.1,435.0 L98.9,435.0 L99.8,435.0 L100.6,435.0 L101.5,435.0 L102.3,435.0 L103.2,435.0 L104.0,435.0 L104.9,435.0 L105.7,435.0 L106.6,435.0 L107.5,435.0 L108.3,435.0 L109.2,435.0 L110.0,435.0 L110.9,435.0 L111.7,435.0 L112.6,435.0 L113.4,435.0 L114.3,435.0 L115.1,435.0 L116.0,435.0 L116.8,435.0 L117.7,435.0 L118.5,435.0 L119.4,435.0 L120.2,435.0 L121.1,435.0 L121.9,435.0 L122.8,435.0 L123.6,435.0 L124.5,435.0 L125.3,435.0 L126.2,435.0 L127.0,435.0 L127.9,435.0 L128.7,435.0 L129.6,435.0 L130.4,435.0 L131.3,435.0 L132.1,435.0 L133.0,435.0 L133.8,435.0 L134.7,435.0 L135.5,435.0 L136.4,435.0 L137.2,435.0 L138.1,435.0 L138.9,435.0 L139.8,435.0 L140.6,435.0 L141.5,435.0 L142.3,435.0 L143.2,435.0 L144.0,435.0 L144.9,435.0 L145.7,435.0 L146.6,435.0 L147.4,435.0 L148.3,435.0 L149.1,435.0 L150.0,435.0 L150.8,435.0 L151.7,435.0 L152.5,435.0 L153.4,435.0 L154.2,435.0 L155.1,435.0 L155.9,435.0 L156.7,435.0 L157.6,435.0 L158.4,435.0 L159.3,435.0 L160.1,435.0 L161.0,435.0 L161.8,435.0 L162.7,435.0 L163.5,435.0 L164.4,435.0 L165.2,435.0 L166.1,435.0 L166.9,435.0 L167.8,435.0 L168.6,435.0 L169.5,435.0 L170.3,435.0 L171.2,435.0 L172.0,435.0 L172.8,435.0 L173.7,435.0 L174.5,435.0 L175.4,435.0 L176.2,435.0 L177.1,435.0 L177.9,435.0 L178.8,435.0 L179.6,435.0 L180.5,435.0 L181.3,435.0 L182.2,435.0 L183.0,435.0 L183.9,435.0 L184.7,435.0 L185.6,435.0 L186.4,435.0 L187.2,435.0 L188.1,435.0 L188.9,435.0 L189.8,435.0 L190.6,435.0 L191.5,435.0 L192.3,435.0 L193.2,435.0 L194.0,435.0 L194.9,435.0 L195.7,435.0 L196.6,435.0 L197.4,435.0 L198.3,435.0 L199.1,435.0 L200.0,435.0 L200.8,435.0 L201.7,435.0 L202.5,435.0 L203.3,435.0 L204.2,435.0 L205.0,435.0 L205.9,435.0 L206.7,435.0 L207.6,434.9 L208.4,434.9 L209.3,434.9 L210.1,434.9 L211.0,434.9 L211.8,434.9 L212.7,434.9 L213.5,434.9 L214.4,434.9 L215.2,434.9 L216.1,434.9 L216.9,434.9 L217.8,434.9 L218.6,434.9 L219.5,434.9 L220.3,434.9 L221.2,434.9 L222.0,434.9 L222.9,434.9 L223.7,434.9 L224.6,434.9 L225.4,434.9 L226.3,434.9 L227.1,434.9 L228.0,434.9 L228.8,434.9 L229.7,434.9 L230.5,434.9 L231.4,434.9 L232.2,434.9 L233.1,434.9 L233.9,434.9 L234.8,434.9 L235.6,434.9 L236.5,434.9 L237.3,434.9 L238.2,434.9 L239.0,434.9 L239.9,434.9 L240.7,434.9 L241.6,434.9 L242.4,434.9 L243.3,434.9 L244.1,434.9 L245.0,434.9 L245.8,434.8 L246.7,434.8 L247.5,434.8 L248.4,434.8 L249.2,434.8 L250.1,434.8 L250.9,434.8 L251.8,434.8 L252.6,434.8 L253.5,434.8 L254.3,434.8 L255.2,434.8 L256.0,434.8 L256.9,434.8 L257.7,434.8 L258.6,434.8 L259.4,434.8 L260.3,434.8 L261.2,434.8 L262.0,434.8 L262.9,434.8 L263.7,434.8 L264.6,434.7 L265.4,434.7 L266.3,434.7 L267.1,434.7 L268.0,434.7 L268.8,434.7 L269.7,434.7 L270.5,434.7 L271.4,434.7 L272.2,434.6 L273.1,434.6 L273.9,434.6 L274.8,434.6 L275.7,434.6 L276.5,434.6 L277.4,434.6 L278.2,434.5 L279.1,434.5 L279.9,434.5 L280.8,434.5 L281.6,434.5 L282.5,434.4 L283.3,434.4 L284.2,434.4 L285.0,434.4 L285.9,434.3 L286.7,434.3 L287.6,434.3 L288.4,434.3 L289.3,434.2 L290.1,434.2 L291.0,434.2 L291.8,434.2 L292.7,434.1 L293.5,434.1 L294.4,434.1 L295.2,434.0 L296.1,434.0 L296.9,433.9 L297.8,433.9 L298.6,433.9 L299.5,433.8 L300.3,433.8 L301.2,433.7 L302.0,433.7 L302.9,433.7 L303.7,433.6 L304.6,433.6 L305.4,433.5 L306.3,433.5 L307.1,433.4 L308.0,433.4 L308.8,433.3 L309.7,433.2 L310.5,433.2 L311.4,433.1 L312.2,433.1 L313.1,433.0 L313.9,432.9 L314.8,432.9 L315.6,432.8 L316.4,432.8 L317.3,432.7 L318.1,432.6 L319.0,432.5 L319.8,432.5 L320.7,432.4 L321.5,432.3 L322.4,432.2 L323.2,432.2 L324.1,432.1 L324.9,432.0 L325.7,431.9 L326.6,431.8 L327.4,431.7 L328.3,431.7 L329.1,431.6 L329.9,431.5 L330.8,431.4 L331.6,431.3 L332.5,431.2 L333.3,431.1 L334.2,431.0 L335.0,430.9 L335.8,430.8 L336.7,430.7 L337.5,430.6 L338.3,430.5 L339.2,430.3 L340.0,430.2 L340.9,430.1 L341.7,430.0 L342.5,429.9 L343.4,429.7 L344.2,429.6 L345.0,429.5 L345.9,429.4 L346.7,429.2 L347.5,429.1 L348.4,429.0 L349.2,428.8 L350.0,428.7 L350.9,428.5 L351.7,428.4 L352.5,428.3 L353.4,428.1 L354.2,428.0 L355.0,427.8 L355.9,427.7 L356.7,427.5 L357.5,427.3 L358.4,427.2 L359.2,427.0 L360.0,426.8 L360.8,426.7 L361.7,426.5 L362.5,426.3 L363.3,426.2 L364.1,426.0 L365.0,425.8 L365.8,425.6 L366.6,425.4 L367.4,425.2 L368.3,425.0 L369.1,424.9 L369.9,424.7 L370.7,424.5 L371.6,424.3 L372.4,424.1 L373.2,423.9 L374.0,423.7 L374.8,423.4 L375.7,423.2 L376.5,423.0 L377.3,422.8 L378.1,422.6 L378.9,422.4 L379.8,422.2 L380.6,422.0 L381.4,421.7 L382.2,421.5 L383.0,421.3 L383.9,421.1 L384.7,420.9 L385.5,420.6 L386.3,420.4 L387.1,420.2 L387.9,420.0 L388.8,419.7 L389.6,419.5 L390.4,419.3 L391.2,419.0 L392.0,418.8 L392.9,418.6 L393.7,418.4 L394.5,418.1 L395.3,417.9 L396.1,417.7 L396.9,417.4 L397.8,417.2 L398.6,417.0 L399.4,416.8 L400.2,416.5 L401.0,416.3 L401.9,416.1 L402.7,415.9 L403.5,415.6 L404.3,415.4 L405.1,415.2 L406.0,415.0 L406.8,414.8 L407.6,414.5 L408.4,414.3 L409.3,414.1 L410.1,413.9 L410.9,413.7 L411.7,413.5 L412.6,413.2 L413.4,413.0 L414.2,412.8 L415.0,412.6 L415.9,412.4 L416.7,412.2 L417.5,412.0 L418.4,411.8 L419.2,411.6 L420.0,411.4 L420.8,411.2 L421.7,411.0 L422.5,410.8 L423.3,410.7 L424.2,410.5 L425.0,410.3 L425.8,410.1 L426.7,409.9 L427.5,409.8 L428.4,409.6 L429.2,409.4 L430.0,409.3 L430.9,409.1 L431.7,409.0 L432.6,408.8 L433.4,408.7 L434.2,408.5 L435.1,408.4 L435.9,408.2 L436.8,408.1 L437.6,408.0 L438.5,407.8 L439.3,407.7 L440.2,407.6 L441.0,407.5 L441.9,407.3 L442.7,407.2 L443.6,407.1 L444.4,407.0 L445.3,406.9 L446.1,406.8 L447.0,406.7 L447.8,406.6 L448.7,406.4 L449.6,406.3 L450.4,406.2 L451.3,406.1 L452.1,406.0 L453.0,405.9 L453.8,405.8 L454.7,405.7 L455.5,405.6 L456.4,405.5 L457.2,405.4 L458.1,405.3 L458.9,405.2 L459.7,405.0 L460.6,404.9 L461.4,404.8 L462.3,404.7 L463.1,404.6 L464.0,404.4 L464.8,404.3 L465.6,404.2 L466.5,404.0 L467.3,403.9 L468.1,403.7 L469.0,403.6 L469.8,403.4 L470.6,403.3 L471.4,403.1 L472.3,402.9 L473.1,402.8 L473.9,402.6 L474.7,402.4 L475.5,402.2 L476.3,402.0 L477.1,401.8 L477.9,401.6 L478.7,401.4 L479.5,401.1 L480.3,400.9 L481.1,400.7 L481.9,400.4 L482.7,400.2 L483.5,399.9 L484.3,399.6 L485.0,399.4 L485.8,399.1 L486.6,398.8 L487.3,398.5 L488.1,398.2 L488.9,397.8 L489.6,397.5 L490.4,397.1 L491.1,396.8 L491.9,396.4 L492.6,396.1 L493.3,395.7 L494.1,395.3 L494.8,394.9 L495.5,394.4 L496.2,394.0 L496.9,393.6 L497.6,393.1 L498.3,392.7 L499.0,392.2 L499.7,391.7 L500.4,391.2 L501.1,390.7 L501.8,390.2 L502.5,389.7 L503.1,389.1 L503.8,388.6 L504.5,388.0 L505.1,387.5 L505.8,386.9 L506.4,386.3 L507.0,385.8 L507.7,385.2 L508.3,384.6 L508.9,384.0 L509.5,383.4 L510.1,382.7 L510.7,382.1 L511.3,381.5 L511.9,380.8 L512.5,380.2 L513.1,379.5 L513.7,378.9 L514.3,378.2 L514.8,377.6 L515.4,376.9 L515.9,376.2 L516.5,375.6 L517.0,374.9 L517.6,374.2 L518.1,373.5 L518.6,372.8 L519.1,372.1 L519.6,371.4 L520.2,370.7 L520.6,370.0 L521.1,369.3 L521.6,368.6 L522.1,367.9 L522.6,367.2 L523.0,366.5 L523.5,365.8 L524.0,365.1 L524.4,364.4 L524.9,363.7 L525.3,362.9 L525.7,362.2 L526.1,361.5 L526.6,360.8 L527.0,360.1 L527.4,359.3 L527.8,358.6 L528.2,357.9 L528.6,357.2 L529.0,356.4 L529.4,355.7 L529.8,355.0 L530.2,354.2 L530.6,353.5 L530.9,352.7 L531.3,352.0 L531.7,351.2 L532.1,350.5 L532.4,349.7 L532.8,349.0 L533.2,348.2 L533.5,347.5 L533.9,346.7 L534.2,345.9 L534.6,345.2 L535.0,344.4 L535.3,343.6 L535.7,342.9 L536.0,342.1 L536.4,341.3 L536.7,340.5 L537.1,339.8 L537.5,339.0 L537.8,338.2 L538.2,337.4 L538.5,336.7 L538.9,335.9 L539.2,335.1 L539.6,334.3 L540.0,333.6 L540.3,332.8 L540.7,332.0 L541.1,331.2 L541.4,330.5 L541.8,329.7 L542.2,328.9 L542.6,328.2 L542.9,327.4 L543.3,326.6 L543.7,325.9 L544.1,325.1 L544.5,324.4 L544.9,323.6 L545.3,322.8 L545.7,322.1 L546.1,321.3 L546.5,320.6 L546.9,319.9 L547.3,319.1 L547.7,318.4 L548.1,317.6 L548.5,316.9 L548.9,316.1 L549.3,315.4 L549.7,314.7 L550.1,313.9 L550.5,313.2 L550.9,312.4 L551.3,311.7 L551.7,310.9 L552.1,310.2 L552.5,309.5 L552.9,308.7 L553.3,308.0 L553.7,307.2 L554.1,306.5 L554.5,305.7 L554.9,305.0 L555.3,304.2 L555.6,303.5 L556.0,302.7 L556.4,301.9 L556.8,301.2 L557.1,300.4 L557.5,299.6 L557.9,298.9 L558.2,298.1 L558.6,297.3 L558.9,296.6 L559.3,295.8 L559.6,295.0 L560.0,294.2 L560.3,293.4 L560.6,292.7 L561.0,291.9 L561.3,291.1 L561.7,290.3 L562.0,289.5 L562.3,288.8 L562.7,288.0 L563.0,287.2 L563.3,286.4 L563.7,285.6 L564.0,284.8 L564.3,284.0 L564.7,283.3 L565.0,282.5 L565.4,281.7 L565.7,280.9 L566.0,280.1 L566.4,279.3 L566.7,278.6 L567.0,277.8 L567.4,277.0 L567.7,276.2 L568.1,275.4 L568.4,274.7 L568.8,273.9 L569.1,273.1 L569.5,272.3 L569.8,271.6 L570.2,270.8 L570.6,270.0 L570.9,269.3 L571.3,268.5 L571.7,267.8 L572.1,267.0 L572.4,266.2 L572.8,265.5 L573.2,264.7 L573.6,264.0 L574.0,263.2 L574.4,262.5 L574.8,261.8 L575.2,261.0 L575.6,260.3 L576.1,259.6 L576.5,258.8 L576.9,258.1 L577.3,257.4 L577.8,256.7 L578.2,256.0 L578.7,255.2 L579.2,254.5 L579.6,253.8 L580.1,253.1 L580.6,252.4 L581.1,251.8 L581.5,251.1 L582.0,250.4 L582.6,249.7 L583.1,249.0 L583.6,248.4 L584.1,247.7 L584.7,247.0 L585.2,246.4 L585.7,245.7 L586.3,245.1 L586.9,244.4 L587.4,243.8 L588.0,243.2 L588.5,242.5 L589.1,241.9 L589.7,241.2 L590.2,240.6 L590.8,239.9 L591.3,239.3 L591.9,238.6 L592.4,238.0 L592.9,237.3 L593.5,236.6 L594.0,236.0 L594.5,235.3 L595.1,234.7 L595.6,234.0 L596.2,233.4 L596.7,232.8 L597.3,232.2 L598.0,231.6 L598.6,231.0 L599.3,230.5 L600.0,230.0 L600.7,229.5 L601.4,229.0 L602.2,228.6 L602.9,228.2 L603.7,227.8 L604.5,227.4 L605.3,227.1 L606.1,226.8 L606.9,226.6 L607.7,226.3 L608.5,226.2 L609.4,226.0 L610.2,225.9 L611.0,225.8 L611.9,225.7 L612.7,225.7 L613.5,225.7 L614.4,225.8 L615.2,225.9 L616.0,226.1 L616.8,226.2 L617.6,226.5 L618.4,226.7 L619.2,227.0 L620.0,227.3 L620.8,227.6 L621.6,228.0 L622.3,228.4 L623.1,228.8 L623.8,229.2 L624.6,229.7 L625.3,230.2 L626.0,230.7 L626.7,231.2 L627.4,231.7 L628.1,232.2 L628.8,232.8 L629.4,233.3 L630.1,233.9 L630.7,234.5 L631.3,235.1 L632.0,235.6 L632.6,236.2 L633.2,236.9 L633.8,237.5 L634.3,238.1 L634.9,238.7 L635.5,239.4 L636.0,240.0 L636.6,240.7 L637.1,241.3 L637.6,242.0 L638.1,242.7 L638.6,243.3 L639.1,244.0 L639.6,244.7 L640.1,245.4 L640.6,246.1 L641.1,246.8 L641.5,247.5 L642.0,248.2 L642.5,248.9 L642.9,249.6 L643.4,250.3 L643.8,251.0 L644.2,251.8 L644.7,252.5 L645.1,253.2 L645.5,254.0 L645.9,254.7 L646.3,255.4 L646.7,256.2 L647.1,256.9 L647.5,257.6 L647.9,258.4 L648.3,259.1 L648.7,259.9 L649.1,260.6 L649.5,261.4 L649.9,262.1 L650.2,262.9 L650.6,263.7 L651.0,264.4 L651.4,265.2 L651.7,266.0 L652.1,266.7 L652.4,267.5 L652.8,268.3 L653.2,269.0 L653.5,269.8 L653.9,270.6 L654.2,271.3 L654.6,272.1 L654.9,272.9 L655.2,273.7 L655.6,274.4 L655.9,275.2 L656.3,276.0 L656.6,276.7 L657.0,277.5 L657.3,278.3 L657.7,279.1 L658.0,279.8 L658.4,280.6 L658.8,281.4 L659.1,282.1 L659.5,282.9 L659.9,283.7 L660.2,284.4 L660.6,285.2 L661.0,285.9 L661.4,286.7 L661.7,287.5 L662.1,288.2 L662.5,289.0 L662.9,289.7 L663.3,290.5 L663.7,291.2 L664.1,292.0 L664.5,292.7 L664.9,293.5 L665.3,294.2 L665.8,294.9 L666.2,295.7 L666.6,296.4 L667.0,297.2 L667.4,297.9 L667.8,298.6 L668.3,299.4 L668.7,300.1 L669.1,300.9 L669.5,301.6 L670.0,302.3 L670.4,303.1 L670.8,303.8 L671.2,304.5 L671.7,305.3 L672.1,306.0 L672.5,306.8 L672.9,307.5 L673.4,308.2 L673.8,309.0 L674.2,309.7 L674.6,310.4 L675.1,311.2 L675.5,311.9 L675.9,312.6 L676.3,313.4 L676.7,314.1 L677.2,314.9 L677.6,315.6 L678.0,316.3 L678.4,317.1 L678.8,317.8 L679.2,318.6 L679.7,319.3 L680.1,320.0 L680.5,320.8 L680.9,321.5 L681.3,322.3 L681.7,323.0 L682.1,323.7 L682.5,324.5 L683.0,325.2 L683.4,326.0 L683.8,326.7 L684.2,327.5 L684.6,328.2 L685.0,328.9 L685.4,329.7 L685.8,330.4 L686.3,331.2 L686.7,331.9 L687.1,332.6 L687.5,333.4 L687.9,334.1 L688.3,334.9 L688.8,335.6 L689.2,336.3 L689.6,337.1 L690.0,337.8 L690.4,338.5 L690.8,339.3 L691.3,340.0 L691.7,340.8 L692.1,341.5 L692.5,342.2 L692.9,343.0 L693.4,343.7 L693.8,344.4 L694.2,345.2 L694.6,345.9 L695.1,346.6 L695.5,347.4 L695.9,348.1 L696.4,348.8 L696.8,349.6 L697.2,350.3 L697.7,351.0 L698.1,351.8 L698.5,352.5 L699.0,353.2 L699.4,353.9 L699.9,354.7 L700.3,355.4 L700.8,356.1 L701.2,356.8 L701.7,357.6 L702.1,358.3 L702.6,359.0 L703.0,359.7 L703.5,360.4 L703.9,361.2 L704.4,361.9 L704.9,362.6 L705.3,363.3 L705.8,364.0 L706.3,364.7 L706.8,365.4 L707.2,366.1 L707.7,366.8 L708.2,367.5 L708.7,368.2 L709.2,368.9 L709.7,369.6 L710.1,370.3 L710.6,371.0 L711.1,371.7 L711.6,372.4 L712.1,373.1 L712.6,373.8 L713.2,374.4 L713.7,375.1 L714.2,375.8 L714.7,376.5 L715.2,377.1 L715.7,377.8 L716.3,378.5 L716.8,379.1 L717.3,379.8 L717.9,380.4 L718.4,381.1 L719.0,381.7 L719.5,382.4 L720.1,383.0 L720.6,383.6 L721.2,384.3 L721.7,384.9 L722.3,385.5 L722.9,386.2 L723.5,386.8 L724.0,387.4 L724.6,388.0 L725.2,388.6 L725.8,389.2 L726.4,389.8 L727.0,390.4 L727.6,391.0 L728.2,391.6 L728.8,392.2 L729.4,392.8 L730.1,393.3 L730.7,393.9 L731.3,394.5 L732.0,395.0 L732.6,395.6 L733.2,396.1 L733.9,396.7 L734.5,397.2 L735.2,397.8 L735.8,398.3 L736.5,398.8 L737.2,399.4 L737.8,399.9 L738.5,400.4 L739.2,400.9 L739.9,401.4 L740.5,401.9 L741.2,402.4 L741.9,402.9 L742.6,403.4 L743.3,403.9 L744.0,404.4 L744.7,404.9 L745.4,405.3 L746.1,405.8 L746.8,406.3 L747.5,406.7 L748.3,407.2 L749.0,407.6 L749.7,408.1 L750.4,408.5 L751.2,409.0 L751.9,409.4 L752.6,409.8 L753.4,410.2 L754.1,410.7 L754.9,411.1 L755.6,411.5 L756.4,411.9 L757.1,412.3 L757.9,412.7 L758.6,413.1 L759.4,413.5 L760.1,413.8 L760.9,414.2 L761.7,414.6 L762.4,414.9 L763.2,415.3 L764.0,415.7 L764.8,416.0 L765.5,416.4 L766.3,416.7 L767.1,417.0 L767.9,417.4 L768.7,417.7 L769.5,418.0 L770.2,418.3 L771.0,418.6 L771.8,418.9 L772.6,419.2 L773.4,419.5 L774.2,419.8 L775.0,420.1 L775.8,420.4 L776.6,420.7 L777.4,420.9 L778.2,421.2 L779.0,421.5 L779.9,421.7 L780.7,422.0 L781.5,422.2 L782.3,422.4 L783.1,422.7 L783.9,422.9 L784.7,423.1 L785.6,423.3 L786.4,423.6 L787.2,423.8 L788.0,424.0 L788.8,424.2 L789.7,424.4 L790.5,424.6 L791.3,424.8 L792.1,424.9 L793.0,425.1 L793.8,425.3 L794.6,425.5 L795.5,425.7 L796.3,425.8 L797.1,426.0 L798.0,426.2 L798.8,426.3 L799.6,426.5 L800.5,426.6 L801.3,426.8 L802.1,426.9 L803.0,427.1 L803.8,427.2 L804.6,427.4 L805.5,427.5 L806.3,427.7 L807.1,427.8 L808.0,427.9 L808.8,428.1 L809.7,428.2 L810.5,428.4 L811.3,428.5 L812.2,428.6 L813.0,428.8 L813.9,428.9 L814.7,429.0 L815.5,429.2 L816.4,429.3 L817.2,429.4 L818.1,429.6 L818.9,429.7 L819.7,429.8 L820.6,430.0 L821.4,430.1 L822.3,430.2 L823.1,430.4 L823.9,430.5 L824.8,430.7 L825.6,430.8" stroke="#ff0000" stroke-width="2.85" stroke-dasharray="12.92 7.75" stroke-dashoffset="0"/>
<path d="M91.2,434.9 L92.5,435.0 L93.7,435.0 L94.9,435.0 L96.2,435.1 L97.4,435.1 L98.6,435.1 L99.8,435.1 L101.0,435.1 L102.2,435.1 L103.4,435.1 L104.6,435.1 L105.8,435.1 L107.0,435.1 L108.2,435.1 L109.4,435.1 L110.6,435.1 L111.8,435.0 L113.0,435.0 L114.1,435.0 L115.3,435.0 L116.5,435.0 L117.7,434.9 L118.9,434.9 L120.1,434.9 L121.3,434.9 L122.4,434.9 L123.6,434.8 L124.8,434.8 L126.0,434.8 L127.2,434.8 L128.4,434.8 L129.6,434.8 L130.8,434.7 L132.0,434.7 L133.2,434.7 L134.4,434.7 L135.7,434.7 L136.9,434.7 L138.1,434.7 L139.3,434.7 L140.5,434.7 L141.8,434.7 L143.0,434.7 L144.2,434.7 L145.5,434.7 L146.7,434.7 L147.9,434.7 L149.1,434.6 L150.3,434.5 L151.5,434.5 L152.7,434.4 L154.0,434.3 L155.1,434.1 L156.3,434.0 L157.5,433.8 L158.7,433.7 L159.9,433.4 L161.0,433.2 L162.2,433.0 L163.3,432.7 L164.4,432.3 L165.5,432.0 L166.6,431.6 L167.7,431.2 L168.8,430.8 L169.8,430.3 L170.9,429.8 L171.9,429.2 L172.9,428.6 L173.9,428.0 L174.9,427.3 L175.8,426.6 L176.8,425.9 L177.7,425.1 L178.6,424.3 L179.5,423.5 L180.4,422.7 L181.3,421.8 L182.2,420.9 L183.0,420.0 L183.8,419.1 L184.7,418.2 L185.5,417.3 L186.2,416.3 L187.0,415.4 L187.8,414.4 L188.5,413.4 L189.3,412.4 L190.0,411.5 L190.7,410.5 L191.4,409.5 L192.0,408.5 L192.7,407.5 L193.3,406.5 L194.0,405.4 L194.6,404.4 L195.2,403.4 L195.8,402.4 L196.3,401.3 L196.9,400.3 L197.4,399.2 L197.9,398.1 L198.4,397.0 L198.9,396.0 L199.3,394.9 L199.8,393.8 L200.2,392.7 L200.6,391.6 L201.0,390.4 L201.4,389.3 L201.8,388.2 L202.2,387.1 L202.6,385.9 L202.9,384.8 L203.3,383.6 L203.6,382.5 L203.9,381.3 L204.2,380.2 L204.6,379.0 L204.9,377.9 L205.2,376.7 L205.5,375.5 L205.8,374.4 L206.0,373.2 L206.3,372.0 L206.6,370.8 L206.9,369.7 L207.2,368.5 L207.5,367.3 L207.8,366.1 L208.0,365.0 L208.3,363.8 L208.6,362.6 L208.9,361.4 L209.2,360.3 L209.5,359.1 L209.8,357.9 L210.1,356.8 L210.4,355.6 L210.7,354.4 L211.1,353.3 L211.4,352.1 L211.7,351.0 L212.0,349.8 L212.4,348.6 L212.7,347.5 L213.0,346.3 L213.3,345.2 L213.7,344.0 L214.0,342.8 L214.3,341.7 L214.7,340.5 L215.0,339.4 L215.3,338.2 L215.7,337.1 L216.0,335.9 L216.3,334.8 L216.6,333.6 L217.0,332.5 L217.3,331.3 L217.6,330.1 L217.9,329.0 L218.2,327.8 L218.6,326.7 L218.9,325.5 L219.2,324.4 L219.5,323.2 L219.8,322.0 L220.0,320.9 L220.3,319.7 L220.6,318.5 L220.9,317.4 L221.2,316.2 L221.4,315.0 L221.7,313.9 L221.9,312.7 L222.2,311.5 L222.4,310.4 L222.7,309.2 L222.9,308.0 L223.2,306.8 L223.4,305.7 L223.6,304.5 L223.9,303.3 L224.1,302.1 L224.3,301.0 L224.5,299.8 L224.8,298.6 L225.0,297.4 L225.2,296.2 L225.4,295.1 L225.6,293.9 L225.8,292.7 L226.1,291.5 L226.3,290.3 L226.5,289.2 L226.7,288.0 L226.9,286.8 L227.1,285.6 L227.3,284.4 L227.5,283.2 L227.7,282.1 L227.9,280.9 L228.1,279.7 L228.3,278.5 L228.5,277.3 L228.7,276.1 L228.9,275.0 L229.2,273.8 L229.4,272.6 L229.6,271.4 L229.8,270.2 L230.0,269.0 L230.2,267.8 L230.4,266.7 L230.6,265.5 L230.8,264.3 L231.0,263.1 L231.3,261.9 L231.5,260.7 L231.7,259.6 L231.9,258.4 L232.1,257.2 L232.3,256.0 L232.5,254.8 L232.7,253.6 L233.0,252.5 L233.2,251.3 L233.4,250.1 L233.6,248.9 L233.8,247.7 L234.0,246.5 L234.2,245.3 L234.5,244.2 L234.7,243.0 L234.9,241.8 L235.1,240.6 L235.3,239.4 L235.5,238.2 L235.8,237.1 L236.0,235.9 L236.2,234.7 L236.4,233.5 L236.6,232.3 L236.8,231.1 L237.1,230.0 L237.3,228.8 L237.5,227.6 L237.7,226.4 L237.9,225.2 L238.1,224.0 L238.3,222.9 L238.6,221.7 L238.8,220.5 L239.0,219.3 L239.2,218.1 L239.4,216.9 L239.6,215.8 L239.9,214.6 L240.1,213.4 L240.3,212.2 L240.5,211.0 L240.7,209.9 L240.9,208.7 L241.1,207.5 L241.4,206.3 L241.6,205.1 L241.8,203.9 L242.0,202.8 L242.2,201.6 L242.4,200.4 L242.6,199.2 L242.9,198.0 L243.1,196.9 L243.3,195.7 L243.5,194.5 L243.7,193.3 L243.9,192.1 L244.1,191.0 L244.3,189.8 L244.5,188.6 L244.8,187.4 L245.0,186.2 L245.2,185.1 L245.4,183.9 L245.6,182.7 L245.8,181.5 L246.0,180.4 L246.2,179.2 L246.5,178.0 L246.7,176.8 L246.9,175.6 L247.1,174.5 L247.3,173.3 L247.6,172.1 L247.8,170.9 L248.0,169.8 L248.2,168.6 L248.5,167.4 L248.7,166.2 L248.9,165.1 L249.2,163.9 L249.4,162.7 L249.7,161.6 L249.9,160.4 L250.2,159.2 L250.4,158.0 L250.7,156.9 L250.9,155.7 L251.2,154.5 L251.5,153.4 L251.8,152.2 L252.0,151.0 L252.3,149.9 L252.6,148.7 L252.9,147.5 L253.2,146.4 L253.5,145.2 L253.8,144.0 L254.1,142.9 L254.4,141.7 L254.7,140.6 L255.1,139.4 L255.4,138.2 L255.7,137.1 L256.1,135.9 L256.4,134.8 L256.8,133.6 L257.1,132.5 L257.5,131.3 L257.9,130.1 L258.3,129.0 L258.6,127.8 L259.0,126.7 L259.4,125.5 L259.8,124.4 L260.3,123.2 L260.7,122.1 L261.1,120.9 L261.5,119.8 L262.0,118.7 L262.4,117.5 L262.9,116.4 L263.4,115.2 L263.9,114.1 L264.3,112.9 L264.8,111.8 L265.3,110.7 L265.8,109.5 L266.4,108.4 L266.9,107.3 L267.5,106.3 L268.1,105.3 L268.8,104.3 L269.4,103.4 L270.2,102.6 L271.0,101.9 L271.8,101.2 L272.7,100.7 L273.7,100.3 L274.7,100.0 L275.8,99.8 L276.9,99.8 L278.0,99.8 L279.2,100.0 L280.3,100.4 L281.4,100.8 L282.5,101.4 L283.5,102.0 L284.6,102.7 L285.6,103.5 L286.6,104.3 L287.5,105.2 L288.4,106.0 L289.3,106.9 L290.2,107.8 L291.0,108.8 L291.8,109.7 L292.6,110.6 L293.4,111.6 L294.1,112.5 L294.9,113.4 L295.6,114.4 L296.3,115.3 L297.1,116.3 L297.8,117.2 L298.5,118.2 L299.2,119.2 L299.9,120.1 L300.6,121.1 L301.3,122.1 L302.0,123.0 L302.7,124.0 L303.4,125.0 L304.1,125.9 L304.8,126.9 L305.5,127.9 L306.2,128.9 L306.8,129.8 L307.5,130.8 L308.2,131.8 L308.9,132.8 L309.6,133.8 L310.3,134.7 L310.9,135.7 L311.6,136.7 L312.3,137.7 L313.0,138.7 L313.6,139.7 L314.3,140.7 L315.0,141.7 L315.6,142.7 L316.3,143.7 L317.0,144.7 L317.6,145.7 L318.3,146.7 L318.9,147.7 L319.6,148.7 L320.2,149.7 L320.9,150.7 L321.5,151.7 L322.2,152.7 L322.8,153.7 L323.5,154.8 L324.1,155.8 L324.8,156.8 L325.4,157.8 L326.0,158.8 L326.7,159.9 L327.3,160.9 L327.9,161.9 L328.6,162.9 L329.2,164.0 L329.8,165.0 L330.4,166.0 L331.1,167.0 L331.7,168.1 L332.3,169.1 L332.9,170.1 L333.5,171.2 L334.1,172.2 L334.7,173.3 L335.3,174.3 L336.0,175.3 L336.6,176.4 L337.1,177.4 L337.7,178.5 L338.3,179.5 L338.9,180.6 L339.5,181.6 L340.1,182.7 L340.7,183.7 L341.3,184.8 L341.9,185.8 L342.4,186.9 L343.0,187.9 L343.6,189.0 L344.1,190.0 L344.7,191.1 L345.3,192.2 L345.8,193.2 L346.4,194.3 L347.0,195.4 L347.5,196.4 L348.1,197.5 L348.6,198.6 L349.2,199.6 L349.7,200.7 L350.2,201.8 L350.8,202.8 L351.3,203.9 L351.9,205.0 L352.4,206.1 L352.9,207.1 L353.5,208.2 L354.0,209.3 L354.5,210.4 L355.0,211.4 L355.6,212.5 L356.1,213.6 L356.6,214.7 L357.1,215.8 L357.7,216.8 L358.2,217.9 L358.7,219.0 L359.2,220.1 L359.7,221.2 L360.3,222.2 L360.8,223.3 L361.3,224.4 L361.8,225.5 L362.3,226.6 L362.8,227.7 L363.4,228.7 L363.9,229.8 L364.4,230.9 L364.9,232.0 L365.4,233.1 L366.0,234.2 L366.5,235.2 L367.0,236.3 L367.5,237.4 L368.0,238.5 L368.6,239.6 L369.1,240.6 L369.6,241.7 L370.1,242.8 L370.7,243.9 L371.2,245.0 L371.7,246.0 L372.3,247.1 L372.8,248.2 L373.3,249.3 L373.9,250.3 L374.4,251.4 L375.0,252.5 L375.5,253.6 L376.0,254.6 L376.6,255.7 L377.1,256.8 L377.7,257.8 L378.2,258.9 L378.7,260.0 L379.3,261.1 L379.8,262.1 L380.4,263.2 L380.9,264.3 L381.4,265.4 L382.0,266.4 L382.5,267.5 L383.1,268.6 L383.6,269.7 L384.1,270.7 L384.7,271.8 L385.2,272.9 L385.8,274.0 L386.3,275.0 L386.8,276.1 L387.4,277.2 L387.9,278.3 L388.4,279.3 L388.9,280.4 L389.5,281.5 L390.0,282.6 L390.5,283.7 L391.0,284.7 L391.6,285.8 L392.1,286.9 L392.6,288.0 L393.1,289.1 L393.6,290.1 L394.1,291.2 L394.6,292.3 L395.2,293.4 L395.7,294.5 L396.2,295.5 L396.8,296.6 L397.3,297.7 L397.8,298.7 L398.4,299.8 L399.0,300.9 L399.5,301.9 L400.1,302.9 L400.7,304.0 L401.3,305.0 L402.0,306.0 L402.6,307.0 L403.2,308.0 L403.9,309.0 L404.6,310.0 L405.3,311.0 L406.0,312.0 L406.7,313.0 L407.4,314.0 L408.1,314.9 L408.9,315.9 L409.6,316.9 L410.3,317.8 L411.0,318.8 L411.8,319.8 L412.5,320.7 L413.2,321.7 L413.9,322.7 L414.6,323.7 L415.3,324.6 L416.0,325.6 L416.7,326.6 L417.4,327.6 L418.1,328.5 L418.8,329.5 L419.5,330.5 L420.2,331.4 L420.9,332.4 L421.6,333.4 L422.4,334.3 L423.1,335.3 L423.8,336.3 L424.5,337.2 L425.2,338.2 L426.0,339.1 L426.7,340.1 L427.4,341.0 L428.2,342.0 L428.9,342.9 L429.7,343.8 L430.4,344.7 L431.2,345.7 L432.0,346.6 L432.8,347.5 L433.6,348.4 L434.4,349.3 L435.2,350.2 L436.0,351.0 L436.8,351.9 L437.7,352.8 L438.5,353.6 L439.4,354.5 L440.2,355.3 L441.1,356.2 L442.0,357.0 L442.9,357.8 L443.7,358.6 L444.6,359.4 L445.6,360.2 L446.5,361.0 L447.4,361.8 L448.3,362.5 L449.3,363.3 L450.2,364.0 L451.2,364.8 L452.1,365.5 L453.1,366.2 L454.1,366.9 L455.0,367.6 L456.0,368.3 L457.0,368.9 L458.0,369.6 L459.0,370.2 L460.1,370.8 L461.1,371.4 L462.2,371.9 L463.2,372.5 L464.3,373.0 L465.4,373.5 L466.5,373.9 L467.6,374.3 L468.7,374.7 L469.9,375.0 L471.0,375.3 L472.2,375.6 L473.4,375.8 L474.6,376.0 L475.8,376.1 L477.1,376.2 L478.3,376.2 L479.5,376.2 L480.7,376.2 L481.9,376.1 L483.2,376.0 L484.4,375.8 L485.5,375.6 L486.7,375.3 L487.9,375.0 L489.0,374.7 L490.2,374.3 L491.3,373.8 L492.4,373.3 L493.4,372.8 L494.4,372.2 L495.5,371.6 L496.5,370.9 L497.4,370.2 L498.4,369.5 L499.3,368.8 L500.2,368.0 L501.1,367.2 L502.0,366.4 L502.9,365.6 L503.7,364.7 L504.6,363.9 L505.4,363.0 L506.2,362.2 L507.0,361.3 L507.8,360.4 L508.6,359.5 L509.3,358.6 L510.1,357.6 L510.8,356.7 L511.6,355.8 L512.3,354.8 L513.0,353.8 L513.7,352.9 L514.4,351.9 L515.0,350.9 L515.7,349.9 L516.4,348.9 L517.0,347.9 L517.7,346.9 L518.3,345.9 L518.9,344.9 L519.6,343.8 L520.2,342.8 L520.8,341.8 L521.4,340.7 L522.0,339.7 L522.6,338.6 L523.2,337.6 L523.8,336.5 L524.4,335.5 L524.9,334.4 L525.5,333.4 L526.1,332.3 L526.7,331.2 L527.2,330.2 L527.8,329.1 L528.4,328.0 L529.0,327.0 L529.5,325.9 L530.1,324.8 L530.7,323.8 L531.2,322.7 L531.8,321.7 L532.4,320.6 L533.0,319.5 L533.5,318.5 L534.1,317.4 L534.7,316.4 L535.3,315.3 L535.8,314.3 L536.4,313.2 L537.0,312.2 L537.6,311.1 L538.1,310.1 L538.7,309.0 L539.3,307.9 L539.9,306.9 L540.4,305.8 L541.0,304.8 L541.6,303.7 L542.1,302.7 L542.7,301.6 L543.3,300.6 L543.8,299.5 L544.4,298.5 L545.0,297.4 L545.5,296.3 L546.1,295.3 L546.6,294.2 L547.2,293.2 L547.7,292.1 L548.2,291.0 L548.8,290.0 L549.3,288.9 L549.9,287.8 L550.4,286.7 L550.9,285.7 L551.4,284.6 L551.9,283.5 L552.5,282.4 L553.0,281.3 L553.5,280.2 L554.0,279.1 L554.5,278.0 L554.9,276.9 L555.4,275.8 L555.9,274.7 L556.4,273.6 L556.9,272.5 L557.4,271.4 L557.8,270.3 L558.3,269.2 L558.8,268.1 L559.3,267.0 L559.8,265.9 L560.3,264.8 L560.8,263.7 L561.3,262.6 L561.8,261.6 L562.4,260.5 L562.9,259.4 L563.4,258.3 L564.0,257.3 L564.6,256.2 L565.2,255.2 L565.8,254.1 L566.4,253.1 L567.0,252.1 L567.6,251.1 L568.3,250.1 L568.9,249.1 L569.6,248.1 L570.3,247.1 L571.0,246.1 L571.7,245.1 L572.3,244.1 L573.0,243.1 L573.7,242.2 L574.4,241.2 L575.1,240.2 L575.8,239.2 L576.5,238.2 L577.1,237.2 L577.8,236.2 L578.5,235.2 L579.2,234.2 L579.9,233.2 L580.6,232.2 L581.3,231.2 L582.0,230.3 L582.7,229.4 L583.5,228.5 L584.3,227.6 L585.1,226.7 L586.0,225.9 L586.9,225.1 L587.8,224.3 L588.7,223.5 L589.7,222.8 L590.8,222.2 L591.8,221.6 L592.9,221.0 L594.0,220.5 L595.2,220.1 L596.3,219.7 L597.5,219.4 L598.7,219.1 L599.9,219.0 L601.1,218.9 L602.2,218.9 L603.4,219.0 L604.6,219.1 L605.7,219.4 L606.9,219.7 L608.0,220.1 L609.1,220.5 L610.2,221.0 L611.2,221.6 L612.2,222.2 L613.2,222.9 L614.2,223.7 L615.1,224.4 L616.0,225.2 L616.9,226.1 L617.7,226.9 L618.6,227.8 L619.4,228.7 L620.2,229.6 L621.0,230.5 L621.8,231.4 L622.6,232.3 L623.4,233.3 L624.2,234.2 L625.0,235.1 L625.7,236.0 L626.5,237.0 L627.3,237.9 L628.0,238.9 L628.7,239.8 L629.5,240.8 L630.2,241.7 L630.9,242.7 L631.6,243.7 L632.3,244.7 L633.0,245.6 L633.7,246.6 L634.4,247.6 L635.0,248.6 L635.7,249.6 L636.3,250.6 L637.0,251.6 L637.6,252.6 L638.2,253.7 L638.9,254.7 L639.5,255.7 L640.1,256.7 L640.7,257.8 L641.3,258.8 L641.9,259.8 L642.5,260.9 L643.1,261.9 L643.7,263.0 L644.3,264.0 L644.8,265.1 L645.4,266.1 L646.0,267.2 L646.6,268.2 L647.1,269.3 L647.7,270.3 L648.3,271.4 L648.8,272.5 L649.4,273.5 L649.9,274.6 L650.5,275.6 L651.1,276.7 L651.6,277.8 L652.2,278.8 L652.7,279.9 L653.3,281.0 L653.9,282.0 L654.4,283.1 L655.0,284.1 L655.5,285.2 L656.1,286.3 L656.7,287.3 L657.2,288.4 L657.8,289.5 L658.4,290.5 L658.9,291.6 L659.5,292.6 L660.1,293.7 L660.6,294.8 L661.2,295.8 L661.8,296.9 L662.3,297.9 L662.9,299.0 L663.5,300.1 L664.0,301.1 L664.6,302.2 L665.2,303.2 L665.8,304.3 L666.3,305.3 L666.9,306.4 L667.5,307.5 L668.1,308.5 L668.6,309.6 L669.2,310.6 L669.8,311.7 L670.4,312.7 L671.0,313.8 L671.5,314.8 L672.1,315.9 L672.7,316.9 L673.3,318.0 L673.9,319.0 L674.5,320.1 L675.0,321.1 L675.6,322.2 L676.2,323.2 L676.8,324.3 L677.4,325.3 L678.0,326.3 L678.6,327.4 L679.2,328.4 L679.8,329.5 L680.4,330.5 L681.0,331.6 L681.6,332.6 L682.2,333.6 L682.8,334.7 L683.4,335.7 L684.0,336.7 L684.6,337.8 L685.2,338.8 L685.8,339.9 L686.5,340.9 L687.1,341.9 L687.7,342.9 L688.3,344.0 L688.9,345.0 L689.5,346.0 L690.2,347.1 L690.8,348.1 L691.4,349.1 L692.0,350.1 L692.7,351.2 L693.3,352.2 L693.9,353.2 L694.6,354.2 L695.2,355.2 L695.8,356.2 L696.5,357.2 L697.1,358.3 L697.8,359.3 L698.5,360.3 L699.1,361.3 L699.8,362.2 L700.5,363.2 L701.1,364.2 L701.8,365.2 L702.5,366.2 L703.2,367.2 L703.9,368.1 L704.6,369.1 L705.3,370.1 L706.0,371.0 L706.8,372.0 L707.5,373.0 L708.2,373.9 L709.0,374.8 L709.7,375.8 L710.5,376.7 L711.2,377.6 L712.0,378.6 L712.8,379.5 L713.6,380.4 L714.4,381.3 L715.2,382.2 L716.0,383.1 L716.8,384.0 L717.6,384.8 L718.5,385.7 L719.3,386.6 L720.2,387.4 L721.0,388.3 L721.9,389.1 L722.7,390.0 L723.6,390.8 L724.5,391.6 L725.4,392.4 L726.3,393.3 L727.2,394.1 L728.1,394.8 L729.0,395.6 L729.9,396.4 L730.9,397.2 L731.8,397.9 L732.7,398.7 L733.7,399.4 L734.6,400.2 L735.6,400.9 L736.6,401.6 L737.5,402.3 L738.5,403.0 L739.5,403.7 L740.5,404.4 L741.5,405.0 L742.5,405.7 L743.5,406.3 L744.5,407.0 L745.5,407.6 L746.6,408.2 L747.6,408.8 L748.6,409.4 L749.7,410.0 L750.7,410.5 L751.8,411.1 L752.8,411.7 L753.9,412.2 L755.0,412.7 L756.1,413.2 L757.1,413.8 L758.2,414.3 L759.3,414.7 L760.4,415.2 L761.5,415.7 L762.6,416.2 L763.7,416.6 L764.8,417.1 L765.9,417.5 L767.1,417.9 L768.2,418.3 L769.3,418.8 L770.4,419.2 L771.6,419.6 L772.7,419.9 L773.8,420.3 L775.0,420.7 L776.1,421.0 L777.3,421.4 L778.4,421.8 L779.6,422.1 L780.7,422.4 L781.9,422.7 L783.1,423.1 L784.2,423.4 L785.4,423.7 L786.6,424.0 L787.7,424.3 L788.9,424.5 L790.1,424.8 L791.3,425.1 L792.4,425.4 L793.6,425.6 L794.8,425.9 L796.0,426.1 L797.1,426.4 L798.3,426.6 L799.5,426.8 L800.7,427.1 L801.9,427.3 L803.1,427.5 L804.3,427.7 L805.4,427.9 L806.6,428.1 L807.8,428.3 L809.0,428.5 L810.2,428.7 L811.4,428.9 L812.6,429.0 L813.7,429.2 L814.9,429.4 L816.1,429.5 L817.3,429.7 L818.5,429.9 L819.7,430.0 L820.8,430.2 L822.0,430.3 L823.2,430.5 L824.4,430.6" stroke="#008000" stroke-width="7.75"/>
<path d="M91.2,435.0 L92.4,435.0 L93.5,435.0 L94.6,435.0 L95.8,435.0 L96.9,435.0 L98.0,435.0 L99.1,435.0 L100.2,435.0 L101.3,435.0 L102.4,435.0 L103.5,435.0 L104.6,435.0 L105.7,435.0 L106.8,435.0 L107.9,435.0 L109.0,435.0 L110.1,435.0 L111.2,435.0 L112.3,435.0 L113.4,435.0 L114.5,435.0 L115.6,435.0 L116.7,435.0 L117.7,435.0 L118.8,435.0 L119.9,435.0 L121.0,435.0 L122.1,435.0 L123.2,435.0 L124.3,435.0 L125.4,435.0 L126.5,435.0 L127.6,435.0 L128.7,435.0 L129.7,435.0 L130.8,435.0 L131.9,434.9 L133.0,434.9 L134.2,434.9 L135.3,434.9 L136.4,434.9 L137.5,434.9 L138.6,434.9 L139.7,434.8 L140.8,434.8 L141.9,434.8 L143.1,434.8 L144.2,434.7 L145.3,434.7 L146.4,434.6 L147.6,434.6 L148.7,434.5 L149.8,434.5 L150.9,434.4 L152.0,434.3 L153.1,434.2 L154.3,434.1 L155.4,434.0 L156.5,433.9 L157.6,433.7 L158.7,433.6 L159.8,433.4 L160.9,433.2 L161.9,433.0 L163.0,432.8 L164.1,432.6 L165.1,432.3 L166.2,432.1 L167.3,431.8 L168.3,431.5 L169.3,431.2 L170.4,430.8 L171.4,430.5 L172.4,430.1 L173.4,429.7 L174.4,429.3 L175.4,428.8 L176.3,428.4 L177.3,427.9 L178.3,427.4 L179.2,426.9 L180.1,426.3 L181.1,425.8 L182.0,425.2 L182.9,424.6 L183.8,424.0 L184.7,423.4 L185.6,422.7 L186.4,422.1 L187.3,421.4 L188.1,420.7 L189.0,420.0 L189.8,419.3 L190.6,418.5 L191.5,417.8 L192.3,417.0 L193.1,416.3 L193.8,415.5 L194.6,414.7 L195.4,413.9 L196.2,413.1 L196.9,412.2 L197.6,411.4 L198.4,410.6 L199.1,409.7 L199.8,408.8 L200.5,408.0 L201.2,407.1 L201.9,406.2 L202.6,405.3 L203.2,404.4 L203.9,403.5 L204.6,402.6 L205.2,401.7 L205.8,400.7 L206.4,399.8 L207.1,398.9 L207.7,397.9 L208.3,397.0 L208.8,396.0 L209.4,395.1 L210.0,394.1 L210.5,393.2 L211.1,392.2 L211.6,391.3 L212.2,390.3 L212.7,389.3 L213.2,388.4 L213.7,387.4 L214.2,386.4 L214.7,385.4 L215.2,384.5 L215.7,383.5 L216.2,382.5 L216.7,381.5 L217.2,380.5 L217.7,379.5 L218.1,378.6 L218.6,377.6 L219.0,376.6 L219.5,375.6 L220.0,374.6 L220.4,373.6 L220.9,372.6 L221.3,371.6 L221.8,370.6 L222.2,369.6 L222.6,368.6 L223.1,367.6 L223.5,366.6 L224.0,365.6 L224.4,364.6 L224.8,363.6 L225.3,362.6 L225.7,361.5 L226.1,360.5 L226.6,359.5 L227.0,358.5 L227.4,357.5 L227.9,356.5 L228.3,355.5 L228.7,354.5 L229.2,353.5 L229.6,352.4 L230.0,351.4 L230.5,350.4 L230.9,349.4 L231.3,348.4 L231.7,347.4 L232.2,346.3 L232.6,345.3 L233.0,344.3 L233.4,343.3 L233.8,342.3 L234.3,341.3 L234.7,340.2 L235.1,339.2 L235.5,338.2 L235.9,337.2 L236.4,336.1 L236.8,335.1 L237.2,334.1 L237.6,333.1 L238.0,332.1 L238.4,331.0 L238.8,330.0 L239.3,329.0 L239.7,328.0 L240.1,326.9 L240.5,325.9 L240.9,324.9 L241.3,323.9 L241.7,322.8 L242.1,321.8 L242.5,320.8 L242.9,319.7 L243.4,318.7 L243.8,317.7 L244.2,316.7 L244.6,315.6 L245.0,314.6 L245.4,313.6 L245.8,312.5 L246.2,311.5 L246.6,310.5 L247.0,309.5 L247.4,308.4 L247.8,307.4 L248.2,306.4 L248.6,305.3 L249.0,304.3 L249.4,303.3 L249.8,302.3 L250.2,301.2 L250.6,300.2 L251.0,299.2 L251.4,298.1 L251.8,297.1 L252.2,296.1 L252.6,295.1 L253.0,294.0 L253.4,293.0 L253.8,292.0 L254.2,290.9 L254.6,289.9 L255.0,288.9 L255.3,287.9 L255.7,286.8 L256.1,285.8 L256.5,284.8 L256.9,283.7 L257.3,282.7 L257.7,281.7 L258.1,280.7 L258.5,279.6 L258.9,278.6 L259.3,277.6 L259.6,276.5 L260.0,275.5 L260.4,274.5 L260.8,273.5 L261.2,272.4 L261.6,271.4 L262.0,270.4 L262.4,269.3 L262.7,268.3 L263.1,267.3 L263.5,266.2 L263.9,265.2 L264.3,264.2 L264.7,263.2 L265.0,262.1 L265.4,261.1 L265.8,260.1 L266.2,259.0 L266.6,258.0 L266.9,257.0 L267.3,255.9 L267.7,254.9 L268.1,253.9 L268.4,252.8 L268.8,251.8 L269.2,250.8 L269.6,249.7 L269.9,248.7 L270.3,247.7 L270.7,246.6 L271.1,245.6 L271.4,244.5 L271.8,243.5 L272.2,242.5 L272.6,241.4 L272.9,240.4 L273.3,239.4 L273.7,238.3 L274.0,237.3 L274.4,236.2 L274.8,235.2 L275.1,234.2 L275.5,233.1 L275.8,232.1 L276.2,231.0 L276.6,230.0 L276.9,228.9 L277.3,227.9 L277.7,226.9 L278.0,225.8 L278.4,224.8 L278.7,223.7 L279.1,222.7 L279.4,221.6 L279.8,220.6 L280.2,219.5 L280.5,218.5 L280.9,217.4 L281.2,216.4 L281.6,215.3 L281.9,214.3 L282.3,213.2 L282.7,212.2 L283.0,211.1 L283.4,210.1 L283.8,209.1 L284.1,208.0 L284.5,207.0 L284.9,205.9 L285.3,204.9 L285.6,203.9 L286.0,202.8 L286.4,201.8 L286.8,200.8 L287.2,199.7 L287.6,198.7 L288.0,197.7 L288.4,196.7 L288.8,195.7 L289.3,194.6 L289.7,193.6 L290.1,192.6 L290.6,191.6 L291.0,190.6 L291.5,189.6 L291.9,188.7 L292.4,187.7 L292.9,186.7 L293.4,185.7 L293.8,184.7 L294.3,183.8 L294.9,182.8 L295.4,181.8 L295.9,180.9 L296.4,179.9 L297.0,179.0 L297.5,178.0 L298.1,177.1 L298.6,176.2 L299.2,175.2 L299.8,174.3 L300.4,173.3 L301.0,172.4 L301.6,171.5 L302.2,170.5 L302.8,169.6 L303.5,168.6 L304.1,167.7 L304.8,166.7 L305.4,165.8 L306.1,164.9 L306.8,163.9 L307.5,163.0 L308.2,162.2 L309.0,161.3 L309.7,160.5 L310.5,159.8 L311.4,159.1 L312.2,158.5 L313.1,157.9 L314.1,157.4 L315.0,157.0 L316.0,156.7 L317.1,156.4 L318.1,156.3 L319.1,156.2 L320.2,156.3 L321.2,156.4 L322.2,156.7 L323.2,157.1 L324.1,157.5 L325.1,158.1 L325.9,158.8 L326.8,159.5 L327.6,160.3 L328.5,161.1 L329.3,161.9 L330.1,162.8 L330.9,163.6 L331.6,164.4 L332.4,165.3 L333.1,166.1 L333.8,167.0 L334.6,167.8 L335.3,168.7 L336.0,169.5 L336.6,170.4 L337.3,171.3 L338.0,172.2 L338.6,173.1 L339.2,174.0 L339.8,174.9 L340.4,175.8 L341.0,176.7 L341.6,177.6 L342.2,178.6 L342.7,179.5 L343.3,180.5 L343.8,181.4 L344.4,182.4 L344.9,183.3 L345.4,184.3 L345.9,185.3 L346.4,186.3 L346.9,187.2 L347.3,188.2 L347.8,189.2 L348.3,190.2 L348.7,191.2 L349.2,192.2 L349.6,193.2 L350.1,194.2 L350.5,195.3 L350.9,196.3 L351.4,197.3 L351.8,198.3 L352.2,199.3 L352.6,200.3 L353.0,201.4 L353.5,202.4 L353.9,203.4 L354.3,204.4 L354.7,205.5 L355.1,206.5 L355.5,207.5 L355.9,208.6 L356.3,209.6 L356.7,210.6 L357.1,211.7 L357.4,212.7 L357.8,213.7 L358.2,214.7 L358.6,215.8 L359.0,216.8 L359.4,217.8 L359.8,218.9 L360.2,219.9 L360.6,220.9 L361.0,222.0 L361.4,223.0 L361.8,224.0 L362.3,225.0 L362.7,226.0 L363.1,227.1 L363.5,228.1 L363.9,229.1 L364.4,230.1 L364.8,231.1 L365.2,232.1 L365.7,233.1 L366.1,234.2 L366.6,235.2 L367.0,236.2 L367.5,237.2 L368.0,238.2 L368.4,239.1 L368.9,240.1 L369.4,241.1 L369.9,242.1 L370.4,243.1 L370.9,244.1 L371.5,245.0 L372.0,246.0 L372.5,247.0 L373.0,247.9 L373.6,248.9 L374.1,249.9 L374.7,250.8 L375.2,251.8 L375.7,252.8 L376.3,253.7 L376.8,254.7 L377.4,255.7 L377.9,256.6 L378.4,257.6 L378.9,258.6 L379.4,259.5 L379.9,260.5 L380.4,261.5 L380.9,262.5 L381.4,263.5 L381.9,264.5 L382.3,265.5 L382.8,266.5 L383.2,267.5 L383.7,268.5 L384.1,269.5 L384.6,270.5 L385.0,271.5 L385.5,272.5 L385.9,273.5 L386.3,274.5 L386.8,275.6 L387.2,276.6 L387.7,277.6 L388.1,278.6 L388.6,279.6 L389.0,280.6 L389.5,281.6 L389.9,282.6 L390.4,283.6 L390.9,284.6 L391.4,285.6 L391.8,286.6 L392.3,287.5 L392.8,288.5 L393.3,289.5 L393.8,290.5 L394.3,291.5 L394.8,292.5 L395.3,293.4 L395.8,294.4 L396.4,295.4 L396.9,296.3 L397.4,297.3 L398.0,298.3 L398.5,299.2 L399.0,300.2 L399.6,301.1 L400.1,302.1 L400.7,303.0 L401.3,304.0 L401.8,304.9 L402.4,305.9 L403.0,306.8 L403.5,307.7 L404.1,308.7 L404.7,309.6 L405.3,310.5 L405.9,311.5 L406.5,312.4 L407.1,313.3 L407.7,314.2 L408.3,315.1 L409.0,316.0 L409.6,316.9 L410.2,317.8 L410.8,318.7 L411.5,319.6 L412.1,320.5 L412.8,321.4 L413.4,322.3 L414.1,323.2 L414.7,324.1 L415.4,325.0 L416.0,325.9 L416.7,326.7 L417.4,327.6 L418.0,328.5 L418.7,329.4 L419.4,330.3 L420.0,331.1 L420.7,332.0 L421.4,332.9 L422.1,333.8 L422.7,334.6 L423.4,335.5 L424.1,336.4 L424.8,337.3 L425.5,338.1 L426.1,339.0 L426.8,339.9 L427.5,340.7 L428.2,341.6 L428.9,342.5 L429.6,343.3 L430.3,344.2 L431.0,345.0 L431.7,345.9 L432.4,346.7 L433.1,347.6 L433.8,348.4 L434.5,349.3 L435.2,350.1 L435.9,350.9 L436.7,351.7 L437.4,352.6 L438.2,353.4 L438.9,354.2 L439.7,355.0 L440.4,355.8 L441.2,356.6 L442.0,357.3 L442.7,358.1 L443.5,358.9 L444.3,359.6 L445.1,360.4 L445.9,361.1 L446.8,361.8 L447.6,362.6 L448.4,363.3 L449.3,364.0 L450.1,364.7 L451.0,365.3 L451.9,366.0 L452.8,366.7 L453.7,367.3 L454.6,367.9 L455.5,368.6 L456.4,369.2 L457.4,369.8 L458.3,370.3 L459.3,370.9 L460.3,371.5 L461.2,372.0 L462.2,372.5 L463.2,373.0 L464.2,373.5 L465.2,373.9 L466.3,374.3 L467.3,374.7 L468.3,375.1 L469.4,375.5 L470.4,375.8 L471.5,376.1 L472.5,376.4 L473.6,376.6 L474.6,376.8 L475.7,377.0 L476.8,377.1 L477.9,377.2 L478.9,377.3 L480.0,377.3 L481.1,377.4 L482.2,377.3 L483.2,377.2 L484.3,377.1 L485.4,377.0 L486.5,376.8 L487.6,376.6 L488.6,376.3 L489.7,376.0 L490.8,375.7 L491.8,375.3 L492.9,374.9 L493.9,374.4 L494.9,374.0 L495.9,373.5 L496.9,373.0 L497.9,372.4 L498.9,371.8 L499.9,371.2 L500.8,370.6 L501.7,369.9 L502.6,369.3 L503.5,368.6 L504.4,367.9 L505.2,367.1 L506.0,366.4 L506.8,365.6 L507.6,364.8 L508.3,364.0 L509.0,363.2 L509.7,362.3 L510.4,361.5 L511.1,360.6 L511.7,359.7 L512.4,358.8 L513.0,357.9 L513.6,357.0 L514.2,356.1 L514.7,355.2 L515.3,354.3 L515.9,353.3 L516.4,352.4 L517.0,351.5 L517.5,350.5 L518.1,349.6 L518.6,348.6 L519.2,347.7 L519.7,346.7 L520.3,345.8 L520.8,344.8 L521.4,343.9 L522.0,342.9 L522.5,342.0 L523.1,341.0 L523.6,340.1 L524.2,339.1 L524.8,338.2 L525.3,337.2 L525.9,336.3 L526.5,335.4 L527.0,334.4 L527.6,333.5 L528.2,332.5 L528.7,331.6 L529.3,330.6 L529.8,329.6 L530.4,328.7 L531.0,327.7 L531.5,326.8 L532.1,325.8 L532.6,324.9 L533.2,323.9 L533.7,323.0 L534.3,322.0 L534.8,321.0 L535.4,320.1 L535.9,319.1 L536.4,318.1 L537.0,317.2 L537.5,316.2 L538.0,315.2 L538.5,314.3 L539.1,313.3 L539.6,312.3 L540.1,311.3 L540.6,310.3 L541.1,309.4 L541.6,308.4 L542.1,307.4 L542.6,306.4 L543.1,305.4 L543.6,304.4 L544.1,303.4 L544.5,302.5 L545.0,301.5 L545.5,300.5 L546.0,299.5 L546.5,298.5 L546.9,297.5 L547.4,296.5 L547.9,295.5 L548.4,294.5 L548.8,293.5 L549.3,292.5 L549.8,291.5 L550.3,290.5 L550.7,289.5 L551.2,288.5 L551.7,287.5 L552.2,286.6 L552.6,285.6 L553.1,284.6 L553.6,283.6 L554.1,282.6 L554.6,281.6 L555.0,280.6 L555.5,279.6 L556.0,278.6 L556.5,277.6 L557.0,276.7 L557.5,275.7 L558.0,274.7 L558.5,273.7 L559.0,272.7 L559.5,271.8 L560.0,270.8 L560.5,269.8 L561.0,268.8 L561.5,267.9 L562.0,266.9 L562.6,265.9 L563.1,265.0 L563.6,264.0 L564.2,263.0 L564.7,262.1 L565.3,261.1 L565.8,260.2 L566.4,259.2 L566.9,258.3 L567.5,257.3 L568.0,256.4 L568.6,255.4 L569.2,254.5 L569.7,253.5 L570.3,252.6 L570.9,251.7 L571.5,250.7 L572.0,249.8 L572.6,248.9 L573.2,247.9 L573.8,247.0 L574.4,246.1 L575.0,245.2 L575.6,244.2 L576.2,243.3 L576.8,242.4 L577.4,241.5 L578.1,240.6 L578.7,239.7 L579.3,238.8 L579.9,237.8 L580.6,236.9 L581.2,236.0 L581.9,235.2 L582.5,234.3 L583.2,233.4 L583.9,232.6 L584.6,231.7 L585.3,230.9 L586.0,230.1 L586.8,229.3 L587.6,228.5 L588.4,227.8 L589.2,227.1 L590.1,226.4 L591.0,225.7 L592.0,225.1 L592.9,224.5 L593.9,224.0 L594.9,223.5 L596.0,223.0 L597.1,222.6 L598.1,222.3 L599.2,222.0 L600.3,221.9 L601.4,221.8 L602.4,221.8 L603.5,221.9 L604.5,222.1 L605.5,222.4 L606.5,222.7 L607.5,223.1 L608.5,223.6 L609.4,224.1 L610.4,224.7 L611.3,225.3 L612.3,225.9 L613.2,226.5 L614.1,227.2 L615.0,227.8 L615.9,228.5 L616.8,229.2 L617.7,229.9 L618.5,230.6 L619.4,231.3 L620.3,232.0 L621.1,232.8 L621.9,233.5 L622.7,234.3 L623.5,235.0 L624.3,235.8 L625.1,236.6 L625.9,237.4 L626.7,238.2 L627.4,239.0 L628.1,239.8 L628.9,240.6 L629.6,241.5 L630.3,242.3 L631.0,243.2 L631.7,244.0 L632.3,244.9 L633.0,245.8 L633.6,246.7 L634.3,247.5 L634.9,248.4 L635.5,249.3 L636.2,250.3 L636.8,251.2 L637.4,252.1 L638.0,253.0 L638.5,253.9 L639.1,254.9 L639.7,255.8 L640.3,256.8 L640.8,257.7 L641.4,258.6 L641.9,259.6 L642.5,260.6 L643.0,261.5 L643.6,262.5 L644.1,263.4 L644.6,264.4 L645.2,265.4 L645.7,266.3 L646.2,267.3 L646.7,268.3 L647.2,269.3 L647.8,270.2 L648.3,271.2 L648.8,272.2 L649.3,273.2 L649.8,274.1 L650.3,275.1 L650.9,276.1 L651.4,277.1 L651.9,278.0 L652.4,279.0 L652.9,280.0 L653.4,281.0 L654.0,281.9 L654.5,282.9 L655.0,283.9 L655.5,284.8 L656.0,285.8 L656.6,286.8 L657.1,287.8 L657.6,288.7 L658.1,289.7 L658.6,290.7 L659.1,291.6 L659.7,292.6 L660.2,293.6 L660.7,294.5 L661.2,295.5 L661.7,296.5 L662.3,297.5 L662.8,298.4 L663.3,299.4 L663.8,300.4 L664.3,301.3 L664.9,302.3 L665.4,303.3 L665.9,304.3 L666.4,305.2 L666.9,306.2 L667.5,307.2 L668.0,308.1 L668.5,309.1 L669.0,310.1 L669.6,311.1 L670.1,312.0 L670.6,313.0 L671.1,314.0 L671.7,314.9 L672.2,315.9 L672.7,316.9 L673.2,317.8 L673.8,318.8 L674.3,319.8 L674.8,320.7 L675.4,321.7 L675.9,322.7 L676.4,323.6 L677.0,324.6 L677.5,325.6 L678.0,326.5 L678.6,327.5 L679.1,328.5 L679.7,329.4 L680.2,330.4 L680.8,331.3 L681.3,332.3 L681.9,333.3 L682.4,334.2 L683.0,335.2 L683.5,336.1 L684.1,337.1 L684.6,338.0 L685.2,339.0 L685.7,339.9 L686.3,340.9 L686.9,341.8 L687.4,342.8 L688.0,343.7 L688.6,344.7 L689.1,345.6 L689.7,346.5 L690.3,347.5 L690.9,348.4 L691.5,349.3 L692.0,350.3 L692.6,351.2 L693.2,352.1 L693.8,353.1 L694.4,354.0 L695.0,354.9 L695.6,355.9 L696.2,356.8 L696.8,357.7 L697.4,358.6 L698.0,359.5 L698.7,360.4 L699.3,361.4 L699.9,362.3 L700.5,363.2 L701.1,364.1 L701.8,365.0 L702.4,365.9 L703.0,366.8 L703.7,367.7 L704.3,368.6 L705.0,369.5 L705.6,370.3 L706.3,371.2 L707.0,372.1 L707.6,373.0 L708.3,373.8 L709.0,374.7 L709.7,375.6 L710.4,376.4 L711.1,377.3 L711.8,378.1 L712.5,379.0 L713.2,379.8 L713.9,380.6 L714.6,381.5 L715.3,382.3 L716.1,383.1 L716.8,383.9 L717.5,384.7 L718.3,385.5 L719.0,386.3 L719.8,387.1 L720.6,387.9 L721.4,388.7 L722.1,389.5 L722.9,390.2 L723.7,391.0 L724.5,391.7 L725.4,392.5 L726.2,393.2 L727.0,394.0 L727.8,394.7 L728.7,395.4 L729.5,396.1 L730.4,396.8 L731.2,397.5 L732.1,398.2 L733.0,398.9 L733.8,399.6 L734.7,400.2 L735.6,400.9 L736.5,401.6 L737.4,402.2 L738.3,402.8 L739.2,403.5 L740.1,404.1 L741.0,404.7 L742.0,405.3 L742.9,405.9 L743.8,406.5 L744.8,407.1 L745.7,407.7 L746.7,408.2 L747.6,408.8 L748.6,409.4 L749.5,409.9 L750.5,410.4 L751.5,411.0 L752.4,411.5 L753.4,412.0 L754.4,412.5 L755.4,413.0 L756.4,413.4 L757.4,413.9 L758.4,414.4 L759.4,414.8 L760.4,415.3 L761.4,415.7 L762.4,416.1 L763.4,416.5 L764.4,417.0 L765.5,417.4 L766.5,417.8 L767.5,418.1 L768.5,418.5 L769.6,418.9 L770.6,419.3 L771.6,419.6 L772.7,420.0 L773.7,420.3 L774.8,420.7 L775.8,421.0 L776.9,421.3 L777.9,421.6 L779.0,421.9 L780.0,422.2 L781.1,422.5 L782.2,422.8 L783.2,423.1 L784.3,423.4 L785.4,423.7 L786.4,423.9 L787.5,424.2 L788.6,424.5 L789.6,424.7 L790.7,425.0 L791.8,425.2 L792.9,425.4 L793.9,425.7 L795.0,425.9 L796.1,426.1 L797.2,426.3 L798.3,426.5 L799.4,426.8 L800.4,427.0 L801.5,427.2 L802.6,427.4 L803.7,427.6 L804.8,427.7 L805.9,427.9 L807.0,428.1 L808.1,428.3 L809.2,428.5 L810.2,428.6 L811.3,428.8 L812.4,429.0 L813.5,429.2 L814.6,429.3 L815.7,429.5 L816.8,429.6 L817.9,429.8 L819.0,429.9 L820.1,430.1 L821.1,430.2 L822.2,430.4 L823.3,430.5 L824.4,430.7" stroke="#000000" stroke-width="5.2"/>
<path d="M91.3,435.0 L92.6,435.0 L93.8,435.0 L95.1,435.0 L96.4,435.0 L97.6,435.0 L98.9,435.0 L100.1,435.0 L101.4,435.0 L102.7,435.0 L103.9,435.0 L105.2,435.0 L106.5,435.0 L107.7,435.0 L109.0,435.0 L110.3,435.0 L111.5,435.0 L112.8,435.0 L114.1,435.0 L115.3,435.0 L116.6,435.0 L117.9,435.0 L119.1,435.0 L120.4,435.0 L121.7,435.0 L123.0,435.0 L124.2,435.0 L125.5,435.0 L126.8,435.0 L128.0,435.0 L129.3,435.0 L130.6,435.0 L131.8,435.0 L133.1,435.0 L134.4,435.0 L135.6,435.0 L136.9,435.0 L138.2,435.0 L139.4,435.0 L140.7,435.0 L142.0,435.0 L143.2,435.0 L144.5,435.0 L145.7,435.0 L147.0,435.0 L148.3,435.0 L149.5,435.0 L150.8,435.0 L152.1,435.0 L153.3,435.0 L154.6,435.0 L155.8,435.0 L157.1,435.0 L158.4,435.0 L159.6,435.0 L160.9,435.0 L162.2,435.0 L163.4,435.0 L164.7,435.0 L165.9,435.0 L167.2,435.0 L168.5,435.0 L169.7,435.0 L171.0,435.0 L172.3,435.0 L173.5,435.0 L174.8,435.0 L176.1,434.9 L177.3,434.9 L178.6,434.9 L179.9,434.9 L181.2,434.8 L182.4,434.8 L183.7,434.8 L185.0,434.8 L186.3,434.7 L187.5,434.7 L188.8,434.6 L190.1,434.6 L191.4,434.5 L192.6,434.4 L193.9,434.3 L195.2,434.2 L196.4,434.1 L197.7,434.0 L198.9,433.8 L200.2,433.6 L201.4,433.4 L202.6,433.1 L203.9,432.8 L205.1,432.5 L206.3,432.2 L207.4,431.8 L208.6,431.3 L209.8,430.9 L210.9,430.3 L212.0,429.8 L213.1,429.2 L214.2,428.5 L215.3,427.8 L216.4,427.1 L217.4,426.3 L218.4,425.5 L219.4,424.7 L220.4,423.8 L221.3,422.9 L222.2,422.0 L223.1,421.1 L224.0,420.1 L224.8,419.2 L225.6,418.2 L226.4,417.2 L227.2,416.2 L227.9,415.1 L228.6,414.1 L229.2,413.0 L229.9,411.9 L230.5,410.9 L231.1,409.8 L231.7,408.7 L232.3,407.5 L232.8,406.4 L233.3,405.3 L233.8,404.1 L234.3,403.0 L234.8,401.8 L235.2,400.6 L235.7,399.5 L236.1,398.3 L236.5,397.1 L236.9,395.9 L237.3,394.7 L237.7,393.5 L238.1,392.3 L238.4,391.1 L238.8,389.8 L239.1,388.6 L239.5,387.4 L239.8,386.2 L240.2,384.9 L240.5,383.7 L240.8,382.5 L241.2,381.3 L241.5,380.0 L241.8,378.8 L242.1,377.6 L242.5,376.4 L242.8,375.1 L243.1,373.9 L243.4,372.7 L243.8,371.4 L244.1,370.2 L244.4,369.0 L244.7,367.8 L245.0,366.5 L245.3,365.3 L245.6,364.1 L246.0,362.8 L246.3,361.6 L246.6,360.4 L246.9,359.2 L247.2,357.9 L247.5,356.7 L247.8,355.5 L248.1,354.2 L248.4,353.0 L248.7,351.8 L249.0,350.5 L249.2,349.3 L249.5,348.1 L249.8,346.8 L250.1,345.6 L250.4,344.4 L250.7,343.2 L251.0,341.9 L251.2,340.7 L251.5,339.5 L251.8,338.2 L252.1,337.0 L252.4,335.7 L252.6,334.5 L252.9,333.3 L253.2,332.0 L253.4,330.8 L253.7,329.6 L254.0,328.3 L254.2,327.1 L254.5,325.9 L254.7,324.6 L255.0,323.4 L255.3,322.1 L255.5,320.9 L255.8,319.7 L256.0,318.4 L256.3,317.2 L256.5,316.0 L256.7,314.7 L257.0,313.5 L257.2,312.2 L257.5,311.0 L257.7,309.7 L257.9,308.5 L258.2,307.3 L258.4,306.0 L258.6,304.8 L258.9,303.5 L259.1,302.3 L259.3,301.0 L259.5,299.8 L259.8,298.6 L260.0,297.3 L260.2,296.1 L260.4,294.8 L260.6,293.6 L260.8,292.3 L261.1,291.1 L261.3,289.8 L261.5,288.6 L261.7,287.3 L261.9,286.1 L262.1,284.8 L262.3,283.6 L262.5,282.3 L262.7,281.1 L262.9,279.8 L263.1,278.6 L263.3,277.3 L263.5,276.1 L263.7,274.8 L263.9,273.6 L264.1,272.3 L264.3,271.1 L264.5,269.8 L264.7,268.6 L264.9,267.3 L265.1,266.1 L265.3,264.8 L265.5,263.6 L265.7,262.3 L265.9,261.1 L266.1,259.8 L266.3,258.6 L266.4,257.3 L266.6,256.1 L266.8,254.8 L267.0,253.6 L267.2,252.3 L267.4,251.0 L267.6,249.8 L267.8,248.5 L268.0,247.3 L268.2,246.0 L268.4,244.8 L268.6,243.5 L268.8,242.3 L269.0,241.0 L269.2,239.8 L269.4,238.5 L269.6,237.3 L269.8,236.0 L270.0,234.8 L270.2,233.5 L270.4,232.3 L270.6,231.0 L270.8,229.8 L271.0,228.5 L271.2,227.3 L271.4,226.0 L271.6,224.8 L271.8,223.5 L272.0,222.3 L272.3,221.0 L272.5,219.8 L272.7,218.6 L272.9,217.3 L273.1,216.1 L273.3,214.8 L273.6,213.6 L273.8,212.3 L274.0,211.1 L274.2,209.8 L274.5,208.6 L274.7,207.3 L274.9,206.1 L275.1,204.9 L275.4,203.6 L275.6,202.4 L275.8,201.1 L276.1,199.9 L276.3,198.6 L276.5,197.4 L276.7,196.2 L277.0,194.9 L277.2,193.7 L277.4,192.4 L277.6,191.2 L277.9,189.9 L278.1,188.7 L278.3,187.4 L278.5,186.2 L278.7,184.9 L278.9,183.7 L279.2,182.4 L279.4,181.2 L279.6,180.0 L279.8,178.7 L280.0,177.5 L280.2,176.2 L280.4,175.0 L280.6,173.7 L280.7,172.4 L280.9,171.2 L281.1,169.9 L281.3,168.7 L281.5,167.4 L281.6,166.2 L281.8,164.9 L282.0,163.7 L282.1,162.4 L282.3,161.1 L282.5,159.9 L282.6,158.6 L282.8,157.4 L283.0,156.1 L283.1,154.9 L283.3,153.6 L283.5,152.3 L283.6,151.1 L283.8,149.8 L284.0,148.6 L284.1,147.3 L284.3,146.1 L284.5,144.8 L284.7,143.5 L284.8,142.3 L285.0,141.0 L285.2,139.8 L285.4,138.5 L285.6,137.3 L285.8,136.0 L286.0,134.8 L286.2,133.5 L286.4,132.3 L286.6,131.0 L286.8,129.8 L287.0,128.5 L287.2,127.3 L287.5,126.1 L287.7,124.8 L288.0,123.6 L288.2,122.4 L288.5,121.1 L288.7,119.9 L289.0,118.7 L289.3,117.4 L289.6,116.2 L289.9,115.0 L290.2,113.8 L290.5,112.5 L290.8,111.3 L291.1,110.1 L291.4,108.9 L291.8,107.7 L292.1,106.4 L292.5,105.2 L292.8,104.0 L293.2,102.8 L293.5,101.6 L293.9,100.4 L294.3,99.2 L294.6,98.0 L295.0,96.7 L295.4,95.5 L295.8,94.3 L296.2,93.1 L296.6,91.9 L297.0,90.7 L297.4,89.5 L297.7,88.3 L298.2,87.1 L298.6,85.9 L299.0,84.6 L299.4,83.4 L299.8,82.2 L300.3,81.0 L300.8,79.8 L301.3,78.6 L301.8,77.4 L302.4,76.2 L303.1,75.1 L303.7,73.9 L304.5,72.9 L305.3,71.9 L306.2,71.2 L307.1,70.6 L308.2,70.1 L309.2,69.9 L310.3,69.8 L311.4,70.0 L312.4,70.3 L313.5,70.8 L314.4,71.4 L315.3,72.3 L316.1,73.2 L316.9,74.3 L317.6,75.4 L318.3,76.6 L319.0,77.8 L319.6,78.9 L320.3,80.1 L320.9,81.3 L321.4,82.5 L322.0,83.6 L322.5,84.8 L323.1,86.0 L323.6,87.1 L324.1,88.3 L324.6,89.5 L325.0,90.7 L325.5,91.9 L325.9,93.0 L326.4,94.2 L326.8,95.4 L327.2,96.6 L327.6,97.8 L328.1,99.0 L328.5,100.1 L328.9,101.3 L329.3,102.5 L329.7,103.7 L330.1,104.9 L330.5,106.1 L330.9,107.3 L331.3,108.5 L331.7,109.7 L332.1,110.9 L332.5,112.1 L332.9,113.3 L333.3,114.5 L333.7,115.7 L334.1,116.9 L334.4,118.1 L334.8,119.3 L335.2,120.5 L335.6,121.7 L336.0,122.9 L336.3,124.1 L336.7,125.3 L337.1,126.5 L337.4,127.7 L337.8,128.9 L338.2,130.2 L338.5,131.4 L338.9,132.6 L339.3,133.8 L339.6,135.0 L340.0,136.2 L340.3,137.4 L340.7,138.6 L341.1,139.9 L341.4,141.1 L341.8,142.3 L342.1,143.5 L342.5,144.7 L342.8,145.9 L343.2,147.1 L343.5,148.4 L343.9,149.6 L344.2,150.8 L344.6,152.0 L344.9,153.2 L345.3,154.5 L345.6,155.7 L346.0,156.9 L346.3,158.1 L346.7,159.3 L347.0,160.5 L347.3,161.8 L347.7,163.0 L348.0,164.2 L348.4,165.4 L348.7,166.6 L349.1,167.9 L349.4,169.1 L349.8,170.3 L350.1,171.5 L350.5,172.7 L350.8,174.0 L351.1,175.2 L351.5,176.4 L351.8,177.6 L352.2,178.8 L352.5,180.1 L352.9,181.3 L353.2,182.5 L353.6,183.7 L353.9,184.9 L354.3,186.1 L354.6,187.4 L355.0,188.6 L355.3,189.8 L355.7,191.0 L356.1,192.2 L356.4,193.4 L356.8,194.7 L357.1,195.9 L357.5,197.1 L357.9,198.3 L358.2,199.5 L358.6,200.7 L359.0,201.9 L359.3,203.1 L359.7,204.3 L360.1,205.5 L360.5,206.8 L360.8,208.0 L361.2,209.2 L361.6,210.4 L362.0,211.6 L362.4,212.8 L362.8,214.0 L363.2,215.2 L363.6,216.4 L364.0,217.6 L364.4,218.8 L364.8,220.0 L365.2,221.2 L365.7,222.3 L366.1,223.5 L366.5,224.7 L366.9,225.9 L367.4,227.1 L367.8,228.3 L368.3,229.5 L368.7,230.6 L369.2,231.8 L369.6,233.0 L370.1,234.2 L370.6,235.3 L371.1,236.5 L371.5,237.7 L372.0,238.9 L372.5,240.0 L373.0,241.2 L373.5,242.4 L374.0,243.5 L374.5,244.7 L375.0,245.8 L375.5,247.0 L376.0,248.2 L376.5,249.3 L377.0,250.5 L377.5,251.6 L378.1,252.8 L378.6,254.0 L379.1,255.1 L379.6,256.3 L380.1,257.4 L380.6,258.6 L381.2,259.7 L381.7,260.9 L382.2,262.1 L382.7,263.2 L383.2,264.4 L383.7,265.5 L384.3,266.7 L384.8,267.9 L385.3,269.0 L385.8,270.2 L386.3,271.3 L386.8,272.5 L387.3,273.7 L387.8,274.8 L388.3,276.0 L388.7,277.2 L389.2,278.3 L389.7,279.5 L390.2,280.7 L390.6,281.9 L391.1,283.0 L391.6,284.2 L392.1,285.4 L392.5,286.5 L393.0,287.7 L393.5,288.9 L394.0,290.0 L394.5,291.2 L395.0,292.3 L395.5,293.5 L396.0,294.6 L396.6,295.8 L397.1,296.9 L397.7,298.0 L398.3,299.1 L398.9,300.2 L399.5,301.3 L400.2,302.4 L400.8,303.5 L401.5,304.6 L402.2,305.6 L402.9,306.7 L403.6,307.8 L404.3,308.8 L405.0,309.9 L405.8,310.9 L406.5,311.9 L407.2,313.0 L408.0,314.0 L408.7,315.0 L409.5,316.1 L410.2,317.1 L410.9,318.2 L411.7,319.2 L412.4,320.2 L413.1,321.3 L413.9,322.3 L414.6,323.3 L415.3,324.3 L416.1,325.4 L416.8,326.4 L417.6,327.4 L418.3,328.4 L419.0,329.5 L419.8,330.5 L420.5,331.5 L421.3,332.5 L422.0,333.5 L422.8,334.5 L423.6,335.5 L424.3,336.5 L425.1,337.5 L425.9,338.5 L426.6,339.5 L427.4,340.5 L428.2,341.5 L429.0,342.5 L429.8,343.5 L430.6,344.5 L431.4,345.5 L432.2,346.5 L433.0,347.4 L433.8,348.4 L434.6,349.4 L435.5,350.3 L436.3,351.3 L437.1,352.2 L438.0,353.2 L438.9,354.1 L439.7,355.0 L440.6,355.9 L441.5,356.8 L442.4,357.7 L443.3,358.6 L444.2,359.5 L445.1,360.4 L446.0,361.2 L447.0,362.1 L447.9,362.9 L448.9,363.7 L449.8,364.5 L450.8,365.3 L451.8,366.1 L452.8,366.9 L453.8,367.6 L454.8,368.4 L455.9,369.1 L456.9,369.8 L458.0,370.5 L459.1,371.2 L460.2,371.8 L461.3,372.5 L462.4,373.1 L463.5,373.7 L464.7,374.3 L465.8,374.8 L467.0,375.4 L468.2,375.9 L469.4,376.4 L470.6,376.8 L471.8,377.2 L473.0,377.5 L474.2,377.9 L475.4,378.1 L476.7,378.3 L477.9,378.5 L479.1,378.6 L480.3,378.7 L481.6,378.6 L482.8,378.6 L484.0,378.4 L485.3,378.2 L486.5,378.0 L487.7,377.6 L488.9,377.3 L490.1,376.8 L491.3,376.4 L492.5,375.9 L493.7,375.4 L494.9,374.8 L496.1,374.2 L497.2,373.7 L498.4,373.1 L499.5,372.5 L500.7,371.9 L501.8,371.3 L502.9,370.7 L504.0,370.0 L505.0,369.4 L506.1,368.7 L507.1,368.0 L508.0,367.2 L509.0,366.4 L509.9,365.6 L510.8,364.7 L511.6,363.8 L512.4,362.8 L513.2,361.9 L513.9,360.8 L514.7,359.8 L515.4,358.8 L516.1,357.7 L516.8,356.6 L517.5,355.6 L518.2,354.5 L518.8,353.4 L519.5,352.4 L520.2,351.3 L520.9,350.2 L521.5,349.1 L522.2,348.0 L522.8,347.0 L523.5,345.9 L524.1,344.8 L524.8,343.7 L525.4,342.6 L526.1,341.5 L526.7,340.4 L527.3,339.3 L528.0,338.2 L528.6,337.1 L529.2,336.0 L529.8,334.9 L530.5,333.8 L531.1,332.7 L531.7,331.6 L532.3,330.5 L532.9,329.4 L533.5,328.3 L534.1,327.2 L534.7,326.1 L535.3,324.9 L535.9,323.8 L536.5,322.7 L537.1,321.6 L537.7,320.5 L538.3,319.4 L538.9,318.2 L539.5,317.1 L540.1,316.0 L540.7,314.9 L541.3,313.8 L541.8,312.6 L542.4,311.5 L543.0,310.4 L543.6,309.3 L544.2,308.1 L544.8,307.0 L545.3,305.9 L545.9,304.8 L546.5,303.6 L547.1,302.5 L547.7,301.4 L548.2,300.3 L548.8,299.1 L549.4,298.0 L550.0,296.9 L550.6,295.8 L551.1,294.6 L551.7,293.5 L552.3,292.4 L552.9,291.3 L553.4,290.1 L554.0,289.0 L554.6,287.9 L555.2,286.8 L555.8,285.6 L556.4,284.5 L556.9,283.4 L557.5,282.3 L558.1,281.1 L558.7,280.0 L559.3,278.9 L559.9,277.8 L560.5,276.7 L561.1,275.6 L561.7,274.4 L562.3,273.3 L562.9,272.2 L563.5,271.1 L564.1,270.0 L564.7,268.9 L565.3,267.8 L565.9,266.7 L566.5,265.6 L567.1,264.5 L567.8,263.4 L568.4,262.3 L569.0,261.2 L569.6,260.1 L570.3,259.0 L570.9,257.9 L571.5,256.8 L572.2,255.7 L572.8,254.6 L573.5,253.5 L574.1,252.4 L574.8,251.4 L575.5,250.3 L576.1,249.2 L576.8,248.2 L577.5,247.1 L578.2,246.1 L578.9,245.0 L579.7,244.0 L580.4,243.0 L581.1,241.9 L581.9,240.9 L582.7,239.9 L583.5,239.0 L584.3,238.0 L585.2,237.0 L586.0,236.1 L586.9,235.2 L587.8,234.2 L588.7,233.4 L589.7,232.5 L590.6,231.6 L591.6,230.8 L592.7,230.0 L593.7,229.2 L594.8,228.5 L595.9,227.9 L597.0,227.3 L598.1,226.8 L599.3,226.4 L600.4,226.1 L601.6,225.9 L602.8,225.8 L604.0,225.8 L605.2,225.9 L606.4,226.1 L607.6,226.4 L608.8,226.7 L610.0,227.1 L611.2,227.6 L612.4,228.2 L613.6,228.8 L614.7,229.4 L615.9,230.1 L617.0,230.9 L618.1,231.6 L619.1,232.4 L620.2,233.2 L621.1,234.1 L622.1,234.9 L623.1,235.8 L624.0,236.7 L624.9,237.6 L625.7,238.5 L626.6,239.4 L627.4,240.3 L628.2,241.3 L629.0,242.3 L629.8,243.2 L630.5,244.2 L631.3,245.2 L632.0,246.2 L632.7,247.2 L633.4,248.3 L634.1,249.3 L634.9,250.3 L635.6,251.4 L636.2,252.4 L636.9,253.5 L637.6,254.5 L638.3,255.6 L639.0,256.6 L639.7,257.7 L640.3,258.8 L641.0,259.9 L641.7,260.9 L642.3,262.0 L643.0,263.1 L643.6,264.2 L644.3,265.3 L644.9,266.4 L645.6,267.5 L646.2,268.6 L646.8,269.7 L647.5,270.8 L648.1,271.9 L648.7,273.0 L649.4,274.1 L650.0,275.3 L650.6,276.4 L651.2,277.5 L651.8,278.6 L652.5,279.7 L653.1,280.8 L653.7,281.9 L654.3,283.0 L654.9,284.2 L655.5,285.3 L656.1,286.4 L656.7,287.5 L657.3,288.6 L657.9,289.7 L658.5,290.8 L659.1,292.0 L659.7,293.1 L660.3,294.2 L660.9,295.3 L661.5,296.4 L662.1,297.5 L662.7,298.6 L663.3,299.7 L663.9,300.9 L664.5,302.0 L665.1,303.1 L665.7,304.2 L666.3,305.3 L666.9,306.4 L667.5,307.5 L668.1,308.6 L668.7,309.7 L669.3,310.8 L669.9,311.9 L670.5,313.1 L671.1,314.2 L671.7,315.3 L672.3,316.4 L672.9,317.5 L673.5,318.6 L674.1,319.7 L674.7,320.8 L675.3,321.9 L675.9,323.0 L676.5,324.1 L677.1,325.2 L677.8,326.3 L678.4,327.4 L679.0,328.5 L679.6,329.6 L680.2,330.7 L680.9,331.8 L681.5,332.9 L682.1,334.0 L682.8,335.1 L683.4,336.2 L684.0,337.2 L684.7,338.3 L685.3,339.4 L686.0,340.5 L686.6,341.6 L687.3,342.7 L687.9,343.8 L688.6,344.9 L689.3,345.9 L689.9,347.0 L690.6,348.1 L691.3,349.2 L692.0,350.3 L692.7,351.3 L693.4,352.4 L694.0,353.5 L694.7,354.5 L695.4,355.6 L696.1,356.7 L696.9,357.7 L697.6,358.8 L698.3,359.9 L699.0,360.9 L699.7,362.0 L700.5,363.0 L701.2,364.0 L702.0,365.1 L702.7,366.1 L703.5,367.1 L704.2,368.2 L705.0,369.2 L705.7,370.2 L706.5,371.2 L707.3,372.2 L708.1,373.2 L708.9,374.2 L709.7,375.2 L710.5,376.2 L711.3,377.2 L712.1,378.2 L712.9,379.1 L713.7,380.1 L714.6,381.0 L715.4,382.0 L716.2,382.9 L717.1,383.9 L717.9,384.8 L718.8,385.7 L719.7,386.6 L720.5,387.5 L721.4,388.4 L722.3,389.3 L723.2,390.2 L724.1,391.1 L725.0,391.9 L725.9,392.8 L726.8,393.6 L727.8,394.5 L728.7,395.3 L729.6,396.1 L730.6,397.0 L731.6,397.8 L732.5,398.5 L733.5,399.3 L734.5,400.1 L735.5,400.9 L736.5,401.6 L737.5,402.4 L738.5,403.1 L739.5,403.8 L740.5,404.5 L741.6,405.2 L742.6,405.9 L743.6,406.6 L744.7,407.2 L745.8,407.9 L746.9,408.5 L747.9,409.2 L749.0,409.8 L750.1,410.4 L751.2,411.0 L752.4,411.6 L753.5,412.1 L754.6,412.7 L755.8,413.2 L756.9,413.8 L758.1,414.3 L759.2,414.8 L760.4,415.3 L761.5,415.8 L762.7,416.3 L763.9,416.8 L765.1,417.3 L766.3,417.7 L767.5,418.2 L768.7,418.6 L769.9,419.0 L771.1,419.4 L772.3,419.8 L773.5,420.2 L774.8,420.6 L776.0,421.0 L777.2,421.4 L778.4,421.8 L779.7,422.1 L780.9,422.5 L782.2,422.8 L783.4,423.1 L784.6,423.5 L785.9,423.8 L787.1,424.1 L788.4,424.4 L789.6,424.7 L790.9,425.0 L792.1,425.3 L793.4,425.5 L794.6,425.8 L795.9,426.1 L797.1,426.3 L798.4,426.6 L799.6,426.8 L800.9,427.0 L802.1,427.3 L803.4,427.5 L804.6,427.7 L805.9,427.9 L807.1,428.1 L808.3,428.4 L809.6,428.6 L810.8,428.7 L812.0,428.9 L813.3,429.1 L814.5,429.3 L815.7,429.5 L816.9,429.7 L818.2,429.8 L819.4,430.0 L820.6,430.2 L821.8,430.3 L823.0,430.5 L824.2,430.6" stroke="#ff0000" stroke-width="2.85"/>
</g>
<g stroke="#000" stroke-width="2.8" fill="none" stroke-linecap="butt">
<rect x="91.3" y="3.5" width="733.35" height="431.6"/>
<path d="M123.60,435.1 v-8.5 M123.60,3.5 v8.5 M146.51,435.1 v-8.5 M146.51,3.5 v8.5 M164.28,435.1 v-8.5 M164.28,3.5 v8.5 M178.80,435.1 v-8.5 M178.80,3.5 v8.5 M191.08,435.1 v-8.5 M191.08,3.5 v8.5 M201.72,435.1 v-8.5 M201.72,3.5 v8.5 M211.10,435.1 v-8.5 M211.10,3.5 v8.5 M219.49,435.1 v-17 M219.49,3.5 v17 M274.70,435.1 v-8.5 M274.70,3.5 v8.5 M307.00,435.1 v-8.5 M307.00,3.5 v8.5 M329.91,435.1 v-8.5 M329.91,3.5 v8.5 M347.68,435.1 v-8.5 M347.68,3.5 v8.5 M362.20,435.1 v-8.5 M362.20,3.5 v8.5 M374.48,435.1 v-8.5 M374.48,3.5 v8.5 M385.12,435.1 v-8.5 M385.12,3.5 v8.5 M394.50,435.1 v-8.5 M394.50,3.5 v8.5 M402.89,435.1 v-17 M402.89,3.5 v17 M458.10,435.1 v-8.5 M458.10,3.5 v8.5 M490.40,435.1 v-8.5 M490.40,3.5 v8.5 M513.31,435.1 v-8.5 M513.31,3.5 v8.5 M531.08,435.1 v-8.5 M531.08,3.5 v8.5 M545.60,435.1 v-8.5 M545.60,3.5 v8.5 M557.88,435.1 v-8.5 M557.88,3.5 v8.5 M568.52,435.1 v-8.5 M568.52,3.5 v8.5 M577.90,435.1 v-8.5 M577.90,3.5 v8.5 M586.29,435.1 v-17 M586.29,3.5 v17 M641.50,435.1 v-8.5 M641.50,3.5 v8.5 M673.80,435.1 v-8.5 M673.80,3.5 v8.5 M696.71,435.1 v-8.5 M696.71,3.5 v8.5 M714.48,435.1 v-8.5 M714.48,3.5 v8.5 M729.00,435.1 v-8.5 M729.00,3.5 v8.5 M741.28,435.1 v-8.5 M741.28,3.5 v8.5 M751.92,435.1 v-8.5 M751.92,3.5 v8.5 M761.30,435.1 v-8.5 M761.30,3.5 v8.5 M769.69,435.1 v-17 M769.69,3.5 v17 M91.3,386.06 h8.5 M824.65,386.06 h-8.5 M91.3,337.03 h17 M824.65,337.03 h-17 M91.3,287.99 h8.5 M824.65,287.99 h-8.5 M91.3,238.95 h17 M824.65,238.95 h-17 M91.3,189.91 h8.5 M824.65,189.91 h-8.5 M91.3,140.88 h17 M824.65,140.88 h-17 M91.3,91.84 h8.5 M824.65,91.84 h-8.5 M91.3,42.80 h17 M824.65,42.80 h-17"/>
</g>
<rect x="546.7" y="3.5" width="276.9" height="199.6" fill="#fff" stroke="#000" stroke-width="2.8"/>
<path d="M559.2,24.9 H603" stroke="#008000" stroke-width="7.75" fill="none" stroke-dasharray="39 24"/>
<path d="M559.2,58.8 H603" stroke="#000000" stroke-width="5.2" fill="none" stroke-dasharray="26.5 15.9"/>
<path d="M559.2,92.9 H603" stroke="#ff0000" stroke-width="2.85" fill="none" stroke-dasharray="13 7.8"/>
<path d="M559.2,124.6 H603" stroke="#008000" stroke-width="7.75" fill="none"/>
<path d="M559.2,154.4 H603" stroke="#000000" stroke-width="5.2" fill="none"/>
<path d="M559.2,183.9 H603" stroke="#ff0000" stroke-width="2.85" fill="none"/>
</svg>
<div class="t tick yl" style="top:30.6px">0.2</div>
<div class="t tick yl" style="top:128.7px">0.<svg class="one" viewBox="0 0 556 709"><path d="M268,709V204H102V141C200,137 262,99 295,0H357V709Z"/></svg>5</div>
<div class="t tick yl" style="top:226.8px;margin-left:3.8px">0.<svg class="one" viewBox="0 0 556 709"><path d="M268,709V204H102V141C200,137 262,99 295,0H357V709Z"/></svg></div>
<div class="t tick yl" style="top:324.8px">0.05</div>
<div class="t tick yl" style="top:422.9px">0</div>
<div class="t tick xl" style="left:172.0px;top:441px">0.0<svg class="one" viewBox="0 0 556 709"><path d="M268,709V204H102V141C200,137 262,99 295,0H357V709Z"/></svg></div>
<div class="t tick xl" style="left:354.6px;top:441px">0.<svg class="one" viewBox="0 0 556 709"><path d="M268,709V204H102V141C200,137 262,99 295,0H357V709Z"/></svg></div>
<div class="t tick xl" style="left:539.0px;top:441px"><svg class="one" viewBox="0 0 556 709"><path d="M268,709V204H102V141C200,137 262,99 295,0H357V709Z"/></svg></div>
<div class="t tick xl" style="left:719.5px;top:441px"><svg class="one" viewBox="0 0 556 709"><path d="M268,709V204H102V141C200,137 262,99 295,0H357V709Z"/></svg>0</div>
<div class="t ax" style="left:438.6px;top:466.9px;transform-origin:0 0;transform:scaleX(0.958)">T/t</div>
<div class="t ax" style="left:0;top:0;transform-origin:0 0;transform:translate(-0.5px,246.2px) rotate(-90deg) scaleX(0.958)">C/N</div>
<div class="t lg" style="top:12.57px"><i>N</i>=20, <i>n</i>=5, <i>t<span class="ap">’</span></i>=√<span class="ov">2</span><i class="tf">t</i></div>
<div class="t lg" style="top:46.57px"><i>N</i>=<svg class="one" viewBox="0 0 556 709"><path d="M268,709V204H102V141C200,137 262,99 295,0H357V709Z"/></svg>6, <i>n</i>=4, <i>t<span class="ap">’</span></i>=√<span class="ov d">2</span><i class="tf">t</i></div>
<div class="t lg" style="top:80.57px"><i>N</i>=<svg class="one" viewBox="0 0 556 709"><path d="M268,709V204H102V141C200,137 262,99 295,0H357V709Z"/></svg>2, <i>n</i>=3, <i>t<span class="ap">’</span></i>=√<span class="ov e">2</span><i class="tf">t</i></div>
<div class="t lg" style="top:110.5px"><i>N</i>=20, <i>n</i>=5, <i>t<span class="ap">’</span></i>=<span class="o3"><svg class="one" viewBox="0 0 556 709"><path d="M268,709V204H102V141C200,137 262,99 295,0H357V709Z"/></svg>.3</span><i>t</i></div>
<div class="t lg" style="top:140.3px"><i>N</i>=<svg class="one" viewBox="0 0 556 709"><path d="M268,709V204H102V141C200,137 262,99 295,0H357V709Z"/></svg>6, <i>n</i>=4, <i>t<span class="ap">’</span></i>=<span class="o3"><svg class="one" viewBox="0 0 556 709"><path d="M268,709V204H102V141C200,137 262,99 295,0H357V709Z"/></svg>.3</span><i>t</i></div>
<div class="t lg" style="top:169.8px"><i>N</i>=<svg class="one" viewBox="0 0 556 709"><path d="M268,709V204H102V141C200,137 262,99 295,0H357V709Z"/></svg>2, <i>n</i>=3, <i>t<span class="ap">’</span></i>=<span class="o3"><svg class="one" viewBox="0 0 556 709"><path d="M268,709V204H102V141C200,137 262,99 295,0H357V709Z"/></svg>.3</span><i>t</i></div>
</body></html>
